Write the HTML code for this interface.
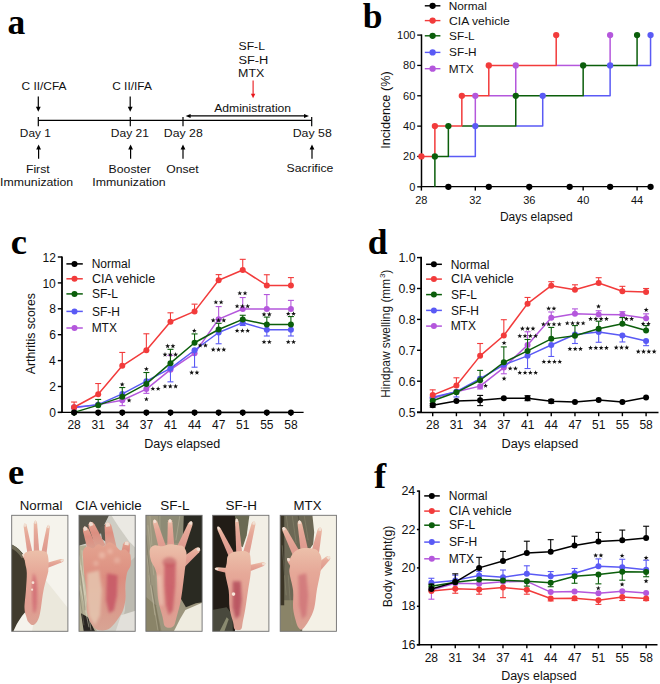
<!DOCTYPE html><html><head><meta charset="utf-8"><style>html,body{margin:0;padding:0;background:#fff;}svg{display:block;}text{font-family:"Liberation Sans",sans-serif;} text.sb{font-family:"Liberation Serif",serif;font-weight:bold;}</style></head><body>
<svg width="660" height="684" viewBox="0 0 660 684">
<rect width="660" height="684" fill="#fff"/>
<text x="7.54" y="33.8" class="sb" font-size="35.5" fill="#000">a</text>
<text x="362.64" y="28.4" class="sb" font-size="35.5" fill="#000">b</text>
<text x="10.71" y="253.8" class="sb" font-size="36.5" fill="#000">c</text>
<text x="367.68" y="253.9" class="sb" font-size="35.5" fill="#000">d</text>
<text x="8" y="484" class="sb" font-size="36.5" fill="#000">e</text>
<text x="374.03" y="487.6" class="sb" font-size="36.5" fill="#000">f</text>
<text transform="translate(21.5,89.9) scale(1.083,1)" font-size="11" fill="#111111" >C II/CFA</text>
<text transform="translate(112.21,89.9) scale(1.081,1)" font-size="11" fill="#111111" >C II/IFA</text>
<line x1="38.3" y1="96.4" x2="38.3" y2="107.3" stroke="#000000" stroke-width="1.2" />
<polygon points="35.9,106.8 40.7,106.8 38.3,111.8" fill="#000000"/>
<line x1="130.2" y1="96.4" x2="130.2" y2="107.3" stroke="#000000" stroke-width="1.2" />
<polygon points="127.8,106.8 132.6,106.8 130.2,111.8" fill="#000000"/>
<line x1="38.3" y1="120.3" x2="311.7" y2="120.3" stroke="#000000" stroke-width="1.3" />
<line x1="38.3" y1="117" x2="38.3" y2="126.2" stroke="#000000" stroke-width="1.2" />
<line x1="130.3" y1="117" x2="130.3" y2="126.2" stroke="#000000" stroke-width="1.2" />
<line x1="183" y1="117" x2="183" y2="126.2" stroke="#000000" stroke-width="1.2" />
<line x1="311.7" y1="117" x2="311.7" y2="126.2" stroke="#000000" stroke-width="1.2" />
<text transform="translate(19.85,136.7) scale(1.077,1)" font-size="11" fill="#111111" >Day 1</text>
<text transform="translate(110.84,136.7) scale(1.094,1)" font-size="11" fill="#111111" >Day 21</text>
<text transform="translate(163.82,136.7) scale(1.118,1)" font-size="11" fill="#111111" >Day 28</text>
<text transform="translate(292.71,136.6) scale(1.121,1)" font-size="11" fill="#111111" >Day 58</text>
<line x1="38.6" y1="148.9" x2="38.6" y2="158.8" stroke="#000000" stroke-width="1.2" />
<polygon points="36.2,149.4 41,149.4 38.6,144.4" fill="#000000"/>
<line x1="130.6" y1="148.9" x2="130.6" y2="158.8" stroke="#000000" stroke-width="1.2" />
<polygon points="128.2,149.4 133,149.4 130.6,144.4" fill="#000000"/>
<line x1="183" y1="148.9" x2="183" y2="158.8" stroke="#000000" stroke-width="1.2" />
<polygon points="180.6,149.4 185.4,149.4 183,144.4" fill="#000000"/>
<line x1="312" y1="148.9" x2="312" y2="158.8" stroke="#000000" stroke-width="1.2" />
<polygon points="309.6,149.4 314.4,149.4 312,144.4" fill="#000000"/>
<text transform="translate(25.92,172.5) scale(1.114,1)" font-size="11" fill="#111111" >First</text>
<text transform="translate(0.09,186.1) scale(1.119,1)" font-size="11" fill="#111111" >Immunization</text>
<text transform="translate(108.62,172.5) scale(1.113,1)" font-size="11" fill="#111111" >Booster</text>
<text transform="translate(92.29,186.1) scale(1.123,1)" font-size="11" fill="#111111" >Immunization</text>
<text transform="translate(166.19,172.8) scale(1.108,1)" font-size="11" fill="#111111" >Onset</text>
<text transform="translate(286.49,172.4) scale(1.113,1)" font-size="11" fill="#111111" >Sacrifice</text>
<text transform="translate(238.49,49.6) scale(1.110,1)" font-size="11" fill="#111111" >SF-L</text>
<text transform="translate(238.46,63.6) scale(1.165,1)" font-size="11" fill="#111111" >SF-H</text>
<text transform="translate(238.1,76.9) scale(1.132,1)" font-size="11" fill="#111111" >MTX</text>
<line x1="253.1" y1="80.5" x2="253.1" y2="94.2" stroke="#e8161b" stroke-width="1.1" />
<polygon points="250.9,93.7 255.3,93.7 253.1,98.2" fill="#e8161b"/>
<text transform="translate(214.2,111.8) scale(1.105,1)" font-size="11" fill="#111111" >Administration</text>
<line x1="189.5" y1="115.9" x2="305" y2="115.9" stroke="#000000" stroke-width="1.1" />
<polygon points="185.6,115.9 190.6,113.9 190.6,117.9" fill="#000"/>
<polygon points="309.0,115.9 304.0,113.9 304.0,117.9" fill="#000"/>
<line x1="421.5" y1="34.4" x2="421.5" y2="187.3" stroke="#000000" stroke-width="1.5" />
<line x1="420.8" y1="186.6" x2="651" y2="186.6" stroke="#000000" stroke-width="1.4" />
<line x1="417.2" y1="186.8" x2="421.5" y2="186.8" stroke="#000000" stroke-width="1.3" />
<text x="409.28" y="190.7" font-size="11" fill="#111111" >0</text>
<line x1="417.2" y1="156.46" x2="421.5" y2="156.46" stroke="#000000" stroke-width="1.3" />
<text x="403.12" y="160.36" font-size="11" fill="#111111" >20</text>
<line x1="417.2" y1="126.12" x2="421.5" y2="126.12" stroke="#000000" stroke-width="1.3" />
<text x="403.12" y="130.02" font-size="11" fill="#111111" >40</text>
<line x1="417.2" y1="95.78" x2="421.5" y2="95.78" stroke="#000000" stroke-width="1.3" />
<text x="403.12" y="99.68" font-size="11" fill="#111111" >60</text>
<line x1="417.2" y1="65.44" x2="421.5" y2="65.44" stroke="#000000" stroke-width="1.3" />
<text x="403.12" y="69.34" font-size="11" fill="#111111" >80</text>
<line x1="417.2" y1="35.1" x2="421.5" y2="35.1" stroke="#000000" stroke-width="1.3" />
<text x="397.07" y="39" font-size="11" fill="#111111" >100</text>
<line x1="421.4" y1="186.6" x2="421.4" y2="190.6" stroke="#000000" stroke-width="1.4" />
<text x="415.24" y="203.7" font-size="11" fill="#111111" >28</text>
<line x1="475.32" y1="186.6" x2="475.32" y2="190.6" stroke="#000000" stroke-width="1.4" />
<text x="469.21" y="203.7" font-size="11" fill="#111111" >32</text>
<line x1="529.24" y1="186.6" x2="529.24" y2="190.6" stroke="#000000" stroke-width="1.4" />
<text x="523.13" y="203.7" font-size="11" fill="#111111" >36</text>
<line x1="583.16" y1="186.6" x2="583.16" y2="190.6" stroke="#000000" stroke-width="1.4" />
<text x="577.11" y="203.7" font-size="11" fill="#111111" >40</text>
<line x1="637.08" y1="186.6" x2="637.08" y2="190.6" stroke="#000000" stroke-width="1.4" />
<text x="630.97" y="203.7" font-size="11" fill="#111111" >44</text>
<text x="499.94" y="220.8" font-size="12" fill="#111111" >Days elapsed</text>
<text transform="translate(389.6,109.9) rotate(-90) scale(1.056,1)" x="-36.84" y="0" font-size="12" fill="#111111">Incidence (%)</text>
<polyline points="475.32,126.12 475.32,95.78" fill="none" stroke="#b457dc" stroke-width="1.5" stroke-linejoin="round"/>
<polyline points="488.8,95.78 515.76,95.78 515.76,65.44" fill="none" stroke="#b457dc" stroke-width="1.5" stroke-linejoin="round"/>
<polyline points="556.2,65.44 583.16,65.44" fill="none" stroke="#b457dc" stroke-width="1.5" stroke-linejoin="round"/>
<polyline points="610.12,65.44 610.12,35.1" fill="none" stroke="#b457dc" stroke-width="1.5" stroke-linejoin="round"/>
<polyline points="448.36,156.46 475.32,156.46 475.32,126.12" fill="none" stroke="#5a5af5" stroke-width="1.5" stroke-linejoin="round"/>
<polyline points="515.76,126.12 542.72,126.12 542.72,95.78" fill="none" stroke="#5a5af5" stroke-width="1.5" stroke-linejoin="round"/>
<polyline points="583.16,95.78 610.12,95.78 610.12,65.44" fill="none" stroke="#5a5af5" stroke-width="1.5" stroke-linejoin="round"/>
<polyline points="637.08,65.44 650.56,65.44 650.56,35.1" fill="none" stroke="#5a5af5" stroke-width="1.5" stroke-linejoin="round"/>
<polyline points="434.88,186.8 434.88,156.46 448.36,156.46 448.36,126.12" fill="none" stroke="#0b5e0b" stroke-width="1.5" stroke-linejoin="round"/>
<polyline points="461.84,126.12 515.76,126.12 515.76,95.78 583.16,95.78 583.16,65.44 637.08,65.44 637.08,35.1" fill="none" stroke="#0b5e0b" stroke-width="1.5" stroke-linejoin="round"/>
<polyline points="421.4,156.46 434.88,156.46 434.88,126.12 461.84,126.12 461.84,95.78 488.8,95.78 488.8,65.44 556.2,65.44 556.2,35.1" fill="none" stroke="#f23b3b" stroke-width="1.5" stroke-linejoin="round"/>
<circle cx="475.32" cy="126.12" r="3.15" fill="#5a5af5"/>
<circle cx="542.72" cy="95.78" r="3.15" fill="#5a5af5"/>
<circle cx="610.12" cy="65.44" r="3.15" fill="#5a5af5"/>
<circle cx="650.56" cy="35.1" r="3.15" fill="#5a5af5"/>
<circle cx="475.32" cy="95.78" r="3.15" fill="#b457dc"/>
<circle cx="515.76" cy="65.44" r="3.15" fill="#b457dc"/>
<circle cx="610.12" cy="35.1" r="3.15" fill="#b457dc"/>
<circle cx="434.88" cy="156.46" r="3.15" fill="#0b5e0b"/>
<circle cx="448.36" cy="126.12" r="3.15" fill="#0b5e0b"/>
<circle cx="515.76" cy="95.78" r="3.15" fill="#0b5e0b"/>
<circle cx="583.16" cy="65.44" r="3.15" fill="#0b5e0b"/>
<circle cx="637.08" cy="35.1" r="3.15" fill="#0b5e0b"/>
<circle cx="421.4" cy="156.46" r="3.15" fill="#f23b3b"/>
<circle cx="434.88" cy="126.12" r="3.15" fill="#f23b3b"/>
<circle cx="461.84" cy="95.78" r="3.15" fill="#f23b3b"/>
<circle cx="488.8" cy="65.44" r="3.15" fill="#f23b3b"/>
<circle cx="556.2" cy="35.1" r="3.15" fill="#f23b3b"/>
<circle cx="448.36" cy="186.8" r="3.15" fill="#000000"/>
<circle cx="488.8" cy="186.8" r="3.15" fill="#000000"/>
<circle cx="529.24" cy="186.8" r="3.15" fill="#000000"/>
<circle cx="569.68" cy="186.8" r="3.15" fill="#000000"/>
<circle cx="610.12" cy="186.8" r="3.15" fill="#000000"/>
<circle cx="650.56" cy="186.8" r="3.15" fill="#000000"/>
<line x1="424.8" y1="5.8" x2="440.4" y2="5.8" stroke="#000000" stroke-width="1.4" />
<circle cx="432.6" cy="5.8" r="3.15" fill="#000000"/>
<text x="448.76" y="9.8" font-size="11.8" fill="#111111" >Normal</text>
<line x1="424.8" y1="20.6" x2="440.4" y2="20.6" stroke="#f23b3b" stroke-width="1.4" />
<circle cx="432.6" cy="20.6" r="3.15" fill="#f23b3b"/>
<text transform="translate(449.09,24.6) scale(1.029,1)" font-size="11.8" fill="#111111" >CIA vehicle</text>
<line x1="424.8" y1="35.8" x2="440.4" y2="35.8" stroke="#0b5e0b" stroke-width="1.4" />
<circle cx="432.6" cy="35.8" r="3.15" fill="#0b5e0b"/>
<text x="449.11" y="39.8" font-size="11.8" fill="#111111" >SF-L</text>
<line x1="424.8" y1="52.4" x2="440.4" y2="52.4" stroke="#5a5af5" stroke-width="1.4" />
<circle cx="432.6" cy="52.4" r="3.15" fill="#5a5af5"/>
<text x="449.11" y="56.4" font-size="11.8" fill="#111111" >SF-H</text>
<line x1="424.8" y1="68.7" x2="440.4" y2="68.7" stroke="#b457dc" stroke-width="1.4" />
<circle cx="432.6" cy="68.7" r="3.15" fill="#b457dc"/>
<text x="448.76" y="72.7" font-size="11.8" fill="#111111" >MTX</text>
<line x1="62" y1="256.6" x2="62" y2="413.1" stroke="#000000" stroke-width="1.8" />
<line x1="57.8" y1="412.4" x2="303.6" y2="412.4" stroke="#000000" stroke-width="1.4" />
<line x1="57.8" y1="412.4" x2="62" y2="412.4" stroke="#000000" stroke-width="1.4" />
<text x="49.16" y="417" font-size="12" fill="#111111" >0</text>
<line x1="57.8" y1="386.5" x2="62" y2="386.5" stroke="#000000" stroke-width="1.4" />
<text x="49.28" y="391.1" font-size="12" fill="#111111" >2</text>
<line x1="57.8" y1="360.6" x2="62" y2="360.6" stroke="#000000" stroke-width="1.4" />
<text x="49.04" y="365.2" font-size="12" fill="#111111" >4</text>
<line x1="57.8" y1="334.7" x2="62" y2="334.7" stroke="#000000" stroke-width="1.4" />
<text x="49.28" y="339.3" font-size="12" fill="#111111" >6</text>
<line x1="57.8" y1="308.8" x2="62" y2="308.8" stroke="#000000" stroke-width="1.4" />
<text x="49.28" y="313.4" font-size="12" fill="#111111" >8</text>
<line x1="57.8" y1="282.9" x2="62" y2="282.9" stroke="#000000" stroke-width="1.4" />
<text x="42.44" y="287.5" font-size="12" fill="#111111" >10</text>
<line x1="57.8" y1="257" x2="62" y2="257" stroke="#000000" stroke-width="1.4" />
<text x="42.56" y="261.6" font-size="12" fill="#111111" >12</text>
<line x1="74.1" y1="412.4" x2="74.1" y2="416" stroke="#000000" stroke-width="1.4" />
<text x="67.38" y="429.2" font-size="12" fill="#111111" >28</text>
<line x1="98.19" y1="412.4" x2="98.19" y2="416" stroke="#000000" stroke-width="1.4" />
<text x="91.53" y="429.2" font-size="12" fill="#111111" >31</text>
<line x1="122.28" y1="412.4" x2="122.28" y2="416" stroke="#000000" stroke-width="1.4" />
<text x="115.5" y="429.2" font-size="12" fill="#111111" >34</text>
<line x1="146.37" y1="412.4" x2="146.37" y2="416" stroke="#000000" stroke-width="1.4" />
<text x="139.71" y="429.2" font-size="12" fill="#111111" >37</text>
<line x1="170.46" y1="412.4" x2="170.46" y2="416" stroke="#000000" stroke-width="1.4" />
<text x="163.92" y="429.2" font-size="12" fill="#111111" >41</text>
<line x1="194.55" y1="412.4" x2="194.55" y2="416" stroke="#000000" stroke-width="1.4" />
<text x="187.89" y="429.2" font-size="12" fill="#111111" >44</text>
<line x1="218.64" y1="412.4" x2="218.64" y2="416" stroke="#000000" stroke-width="1.4" />
<text x="212.1" y="429.2" font-size="12" fill="#111111" >47</text>
<line x1="242.73" y1="412.4" x2="242.73" y2="416" stroke="#000000" stroke-width="1.4" />
<text x="236.07" y="429.2" font-size="12" fill="#111111" >51</text>
<line x1="266.82" y1="412.4" x2="266.82" y2="416" stroke="#000000" stroke-width="1.4" />
<text x="260.16" y="429.2" font-size="12" fill="#111111" >55</text>
<line x1="290.91" y1="412.4" x2="290.91" y2="416" stroke="#000000" stroke-width="1.4" />
<text x="284.25" y="429.2" font-size="12" fill="#111111" >58</text>
<text transform="translate(144.3,447.6) scale(1.046,1)" font-size="12" fill="#111111" >Days elapsed</text>
<text transform="translate(35.3,333.9) rotate(-90) scale(1.024,1)" x="-39.42" y="0" font-size="12" fill="#111111">Arthritis scores</text>
<line x1="122.28" y1="400.23" x2="122.28" y2="405.67" stroke="#b457dc" stroke-width="1.1" />
<line x1="119.28" y1="405.67" x2="125.28" y2="405.67" stroke="#b457dc" stroke-width="1.1" />
<line x1="146.37" y1="389.09" x2="146.37" y2="393.36" stroke="#b457dc" stroke-width="1.1" />
<line x1="143.37" y1="393.36" x2="149.37" y2="393.36" stroke="#b457dc" stroke-width="1.1" />
<line x1="170.46" y1="369.66" x2="170.46" y2="355.42" stroke="#b457dc" stroke-width="1.1" />
<line x1="167.46" y1="355.42" x2="173.46" y2="355.42" stroke="#b457dc" stroke-width="1.1" />
<line x1="218.64" y1="319.16" x2="218.64" y2="306.6" stroke="#b457dc" stroke-width="1.1" />
<line x1="215.64" y1="306.6" x2="221.64" y2="306.6" stroke="#b457dc" stroke-width="1.1" />
<line x1="242.73" y1="309.06" x2="242.73" y2="297.53" stroke="#b457dc" stroke-width="1.1" />
<line x1="239.73" y1="297.53" x2="245.73" y2="297.53" stroke="#b457dc" stroke-width="1.1" />
<line x1="266.82" y1="309.06" x2="266.82" y2="294.56" stroke="#b457dc" stroke-width="1.1" />
<line x1="263.82" y1="294.56" x2="269.82" y2="294.56" stroke="#b457dc" stroke-width="1.1" />
<line x1="290.91" y1="309.06" x2="290.91" y2="300.38" stroke="#b457dc" stroke-width="1.1" />
<line x1="287.91" y1="300.38" x2="293.91" y2="300.38" stroke="#b457dc" stroke-width="1.1" />
<polyline points="74.1,407.87 98.19,404.63 122.28,400.23 146.37,389.09 170.46,369.66 194.55,353.35 218.64,319.16 242.73,309.06 266.82,309.06 290.91,309.06" fill="none" stroke="#b457dc" stroke-width="1.5" stroke-linejoin="round"/>
<circle cx="74.1" cy="407.87" r="3.0" fill="#b457dc"/>
<circle cx="98.19" cy="404.63" r="3.0" fill="#b457dc"/>
<circle cx="122.28" cy="400.23" r="3.0" fill="#b457dc"/>
<circle cx="146.37" cy="389.09" r="3.0" fill="#b457dc"/>
<circle cx="170.46" cy="369.66" r="3.0" fill="#b457dc"/>
<circle cx="194.55" cy="353.35" r="3.0" fill="#b457dc"/>
<circle cx="218.64" cy="319.16" r="3.0" fill="#b457dc"/>
<circle cx="242.73" cy="309.06" r="3.0" fill="#b457dc"/>
<circle cx="266.82" cy="309.06" r="3.0" fill="#b457dc"/>
<circle cx="290.91" cy="309.06" r="3.0" fill="#b457dc"/>
<line x1="170.46" y1="368.37" x2="170.46" y2="381.84" stroke="#5a5af5" stroke-width="1.1" />
<line x1="167.46" y1="381.84" x2="173.46" y2="381.84" stroke="#5a5af5" stroke-width="1.1" />
<line x1="194.55" y1="350.24" x2="194.55" y2="367.2" stroke="#5a5af5" stroke-width="1.1" />
<line x1="191.55" y1="367.2" x2="197.55" y2="367.2" stroke="#5a5af5" stroke-width="1.1" />
<line x1="218.64" y1="332.5" x2="218.64" y2="343.76" stroke="#5a5af5" stroke-width="1.1" />
<line x1="215.64" y1="343.76" x2="221.64" y2="343.76" stroke="#5a5af5" stroke-width="1.1" />
<line x1="242.73" y1="322.66" x2="242.73" y2="325.51" stroke="#5a5af5" stroke-width="1.1" />
<line x1="239.73" y1="325.51" x2="245.73" y2="325.51" stroke="#5a5af5" stroke-width="1.1" />
<line x1="266.82" y1="329.65" x2="266.82" y2="336" stroke="#5a5af5" stroke-width="1.1" />
<line x1="263.82" y1="336" x2="269.82" y2="336" stroke="#5a5af5" stroke-width="1.1" />
<line x1="290.91" y1="329.65" x2="290.91" y2="336" stroke="#5a5af5" stroke-width="1.1" />
<line x1="287.91" y1="336" x2="293.91" y2="336" stroke="#5a5af5" stroke-width="1.1" />
<polyline points="74.1,407.22 98.19,404.63 122.28,393.88 146.37,381.19 170.46,368.37 194.55,350.24 218.64,332.5 242.73,322.66 266.82,329.65 290.91,329.65" fill="none" stroke="#5a5af5" stroke-width="1.5" stroke-linejoin="round"/>
<circle cx="74.1" cy="407.22" r="3.0" fill="#5a5af5"/>
<circle cx="98.19" cy="404.63" r="3.0" fill="#5a5af5"/>
<circle cx="122.28" cy="393.88" r="3.0" fill="#5a5af5"/>
<circle cx="146.37" cy="381.19" r="3.0" fill="#5a5af5"/>
<circle cx="170.46" cy="368.37" r="3.0" fill="#5a5af5"/>
<circle cx="194.55" cy="350.24" r="3.0" fill="#5a5af5"/>
<circle cx="218.64" cy="332.5" r="3.0" fill="#5a5af5"/>
<circle cx="242.73" cy="322.66" r="3.0" fill="#5a5af5"/>
<circle cx="266.82" cy="329.65" r="3.0" fill="#5a5af5"/>
<circle cx="290.91" cy="329.65" r="3.0" fill="#5a5af5"/>
<line x1="98.19" y1="405.15" x2="98.19" y2="399.45" stroke="#0b5e0b" stroke-width="1.1" />
<line x1="95.19" y1="399.45" x2="101.19" y2="399.45" stroke="#0b5e0b" stroke-width="1.1" />
<line x1="122.28" y1="396.86" x2="122.28" y2="387.54" stroke="#0b5e0b" stroke-width="1.1" />
<line x1="119.28" y1="387.54" x2="125.28" y2="387.54" stroke="#0b5e0b" stroke-width="1.1" />
<line x1="146.37" y1="383.91" x2="146.37" y2="372.51" stroke="#0b5e0b" stroke-width="1.1" />
<line x1="143.37" y1="372.51" x2="149.37" y2="372.51" stroke="#0b5e0b" stroke-width="1.1" />
<line x1="170.46" y1="363.19" x2="170.46" y2="349.33" stroke="#0b5e0b" stroke-width="1.1" />
<line x1="167.46" y1="349.33" x2="173.46" y2="349.33" stroke="#0b5e0b" stroke-width="1.1" />
<line x1="194.55" y1="342.73" x2="194.55" y2="333.92" stroke="#0b5e0b" stroke-width="1.1" />
<line x1="191.55" y1="333.92" x2="197.55" y2="333.92" stroke="#0b5e0b" stroke-width="1.1" />
<line x1="218.64" y1="329.52" x2="218.64" y2="323.3" stroke="#0b5e0b" stroke-width="1.1" />
<line x1="215.64" y1="323.3" x2="221.64" y2="323.3" stroke="#0b5e0b" stroke-width="1.1" />
<line x1="242.73" y1="319.42" x2="242.73" y2="315.27" stroke="#0b5e0b" stroke-width="1.1" />
<line x1="239.73" y1="315.27" x2="245.73" y2="315.27" stroke="#0b5e0b" stroke-width="1.1" />
<line x1="266.82" y1="324.6" x2="266.82" y2="317.09" stroke="#0b5e0b" stroke-width="1.1" />
<line x1="263.82" y1="317.09" x2="269.82" y2="317.09" stroke="#0b5e0b" stroke-width="1.1" />
<line x1="290.91" y1="324.6" x2="290.91" y2="316.57" stroke="#0b5e0b" stroke-width="1.1" />
<line x1="287.91" y1="316.57" x2="293.91" y2="316.57" stroke="#0b5e0b" stroke-width="1.1" />
<polyline points="74.1,412.4 98.19,405.15 122.28,396.86 146.37,383.91 170.46,363.19 194.55,342.73 218.64,329.52 242.73,319.42 266.82,324.6 290.91,324.6" fill="none" stroke="#0b5e0b" stroke-width="1.5" stroke-linejoin="round"/>
<circle cx="74.1" cy="412.4" r="3.0" fill="#0b5e0b"/>
<circle cx="98.19" cy="405.15" r="3.0" fill="#0b5e0b"/>
<circle cx="122.28" cy="396.86" r="3.0" fill="#0b5e0b"/>
<circle cx="146.37" cy="383.91" r="3.0" fill="#0b5e0b"/>
<circle cx="170.46" cy="363.19" r="3.0" fill="#0b5e0b"/>
<circle cx="194.55" cy="342.73" r="3.0" fill="#0b5e0b"/>
<circle cx="218.64" cy="329.52" r="3.0" fill="#0b5e0b"/>
<circle cx="242.73" cy="319.42" r="3.0" fill="#0b5e0b"/>
<circle cx="266.82" cy="324.6" r="3.0" fill="#0b5e0b"/>
<circle cx="290.91" cy="324.6" r="3.0" fill="#0b5e0b"/>
<line x1="74.1" y1="407.22" x2="74.1" y2="402.04" stroke="#f23b3b" stroke-width="1.1" />
<line x1="71.1" y1="402.04" x2="77.1" y2="402.04" stroke="#f23b3b" stroke-width="1.1" />
<line x1="98.19" y1="394.27" x2="98.19" y2="383.52" stroke="#f23b3b" stroke-width="1.1" />
<line x1="95.19" y1="383.52" x2="101.19" y2="383.52" stroke="#f23b3b" stroke-width="1.1" />
<line x1="122.28" y1="365.78" x2="122.28" y2="352.44" stroke="#f23b3b" stroke-width="1.1" />
<line x1="119.28" y1="352.44" x2="125.28" y2="352.44" stroke="#f23b3b" stroke-width="1.1" />
<line x1="146.37" y1="350.24" x2="146.37" y2="333.79" stroke="#f23b3b" stroke-width="1.1" />
<line x1="143.37" y1="333.79" x2="149.37" y2="333.79" stroke="#f23b3b" stroke-width="1.1" />
<line x1="170.46" y1="321.75" x2="170.46" y2="312.81" stroke="#f23b3b" stroke-width="1.1" />
<line x1="167.46" y1="312.81" x2="173.46" y2="312.81" stroke="#f23b3b" stroke-width="1.1" />
<line x1="194.55" y1="311.39" x2="194.55" y2="304.14" stroke="#f23b3b" stroke-width="1.1" />
<line x1="191.55" y1="304.14" x2="197.55" y2="304.14" stroke="#f23b3b" stroke-width="1.1" />
<line x1="218.64" y1="280.31" x2="218.64" y2="274.61" stroke="#f23b3b" stroke-width="1.1" />
<line x1="215.64" y1="274.61" x2="221.64" y2="274.61" stroke="#f23b3b" stroke-width="1.1" />
<line x1="242.73" y1="269.95" x2="242.73" y2="259.33" stroke="#f23b3b" stroke-width="1.1" />
<line x1="239.73" y1="259.33" x2="245.73" y2="259.33" stroke="#f23b3b" stroke-width="1.1" />
<line x1="266.82" y1="285.49" x2="266.82" y2="274.74" stroke="#f23b3b" stroke-width="1.1" />
<line x1="263.82" y1="274.74" x2="269.82" y2="274.74" stroke="#f23b3b" stroke-width="1.1" />
<line x1="290.91" y1="285.49" x2="290.91" y2="277.59" stroke="#f23b3b" stroke-width="1.1" />
<line x1="287.91" y1="277.59" x2="293.91" y2="277.59" stroke="#f23b3b" stroke-width="1.1" />
<polyline points="74.1,407.22 98.19,394.27 122.28,365.78 146.37,350.24 170.46,321.75 194.55,311.39 218.64,280.31 242.73,269.95 266.82,285.49 290.91,285.49" fill="none" stroke="#f23b3b" stroke-width="1.5" stroke-linejoin="round"/>
<circle cx="74.1" cy="407.22" r="3.0" fill="#f23b3b"/>
<circle cx="98.19" cy="394.27" r="3.0" fill="#f23b3b"/>
<circle cx="122.28" cy="365.78" r="3.0" fill="#f23b3b"/>
<circle cx="146.37" cy="350.24" r="3.0" fill="#f23b3b"/>
<circle cx="170.46" cy="321.75" r="3.0" fill="#f23b3b"/>
<circle cx="194.55" cy="311.39" r="3.0" fill="#f23b3b"/>
<circle cx="218.64" cy="280.31" r="3.0" fill="#f23b3b"/>
<circle cx="242.73" cy="269.95" r="3.0" fill="#f23b3b"/>
<circle cx="266.82" cy="285.49" r="3.0" fill="#f23b3b"/>
<circle cx="290.91" cy="285.49" r="3.0" fill="#f23b3b"/>
<polyline points="74.1,412.4 98.19,412.4 122.28,412.4 146.37,412.4 170.46,412.4 194.55,412.4 218.64,412.4 242.73,412.4 266.82,412.4 290.91,412.4" fill="none" stroke="#000000" stroke-width="1.5" stroke-linejoin="round"/>
<circle cx="74.1" cy="412.4" r="3.0" fill="#000000"/>
<circle cx="98.19" cy="412.4" r="3.0" fill="#000000"/>
<circle cx="122.28" cy="412.4" r="3.0" fill="#000000"/>
<circle cx="146.37" cy="412.4" r="3.0" fill="#000000"/>
<circle cx="170.46" cy="412.4" r="3.0" fill="#000000"/>
<circle cx="194.55" cy="412.4" r="3.0" fill="#000000"/>
<circle cx="218.64" cy="412.4" r="3.0" fill="#000000"/>
<circle cx="242.73" cy="412.4" r="3.0" fill="#000000"/>
<circle cx="266.82" cy="412.4" r="3.0" fill="#000000"/>
<circle cx="290.91" cy="412.4" r="3.0" fill="#000000"/>
<polygon points="122.2,381.9 122.83,383.58 124.63,383.66 123.22,384.78 123.7,386.51 122.2,385.52 120.7,386.51 121.18,384.78 119.77,383.66 121.57,383.58" fill="#111"/>
<polygon points="129.1,397.9 129.73,399.58 131.53,399.66 130.12,400.78 130.6,402.51 129.1,401.52 127.6,402.51 128.08,400.78 126.67,399.66 128.47,399.58" fill="#111"/>
<polygon points="146.4,366.5 147.03,368.18 148.83,368.26 147.42,369.38 147.9,371.11 146.4,370.12 144.9,371.11 145.38,369.38 143.97,368.26 145.77,368.18" fill="#111"/>
<polygon points="152.85,386.2 153.48,387.88 155.28,387.96 153.87,389.08 154.35,390.81 152.85,389.82 151.35,390.81 151.83,389.08 150.42,387.96 152.22,387.88" fill="#111"/>
<polygon points="158.15,386.2 158.78,387.88 160.58,387.96 159.17,389.08 159.65,390.81 158.15,389.82 156.65,390.81 157.13,389.08 155.72,387.96 157.52,387.88" fill="#111"/>
<polygon points="146.4,396.7 147.03,398.38 148.83,398.46 147.42,399.58 147.9,401.31 146.4,400.32 144.9,401.31 145.38,399.58 143.97,398.46 145.77,398.38" fill="#111"/>
<polygon points="167.65,343.6 168.28,345.28 170.08,345.36 168.67,346.48 169.15,348.21 167.65,347.22 166.15,348.21 166.63,346.48 165.22,345.36 167.02,345.28" fill="#111"/>
<polygon points="172.95,343.6 173.58,345.28 175.38,345.36 173.97,346.48 174.45,348.21 172.95,347.22 171.45,348.21 171.93,346.48 170.52,345.36 172.32,345.28" fill="#111"/>
<polygon points="165,352.1 165.63,353.78 167.43,353.86 166.02,354.98 166.5,356.71 165,355.72 163.5,356.71 163.98,354.98 162.57,353.86 164.37,353.78" fill="#111"/>
<polygon points="170.3,352.1 170.93,353.78 172.73,353.86 171.32,354.98 171.8,356.71 170.3,355.72 168.8,356.71 169.28,354.98 167.87,353.86 169.67,353.78" fill="#111"/>
<polygon points="175.6,352.1 176.23,353.78 178.03,353.86 176.62,354.98 177.1,356.71 175.6,355.72 174.1,356.71 174.58,354.98 173.17,353.86 174.97,353.78" fill="#111"/>
<polygon points="165,383.8 165.63,385.48 167.43,385.56 166.02,386.68 166.5,388.41 165,387.42 163.5,388.41 163.98,386.68 162.57,385.56 164.37,385.48" fill="#111"/>
<polygon points="170.3,383.8 170.93,385.48 172.73,385.56 171.32,386.68 171.8,388.41 170.3,387.42 168.8,388.41 169.28,386.68 167.87,385.56 169.67,385.48" fill="#111"/>
<polygon points="175.6,383.8 176.23,385.48 178.03,385.56 176.62,386.68 177.1,388.41 175.6,387.42 174.1,388.41 174.58,386.68 173.17,385.56 174.97,385.48" fill="#111"/>
<polygon points="194.3,328.2 194.93,329.88 196.73,329.96 195.32,331.08 195.8,332.81 194.3,331.82 192.8,332.81 193.28,331.08 191.87,329.96 193.67,329.88" fill="#111"/>
<polygon points="200.15,342.9 200.78,344.58 202.58,344.66 201.17,345.78 201.65,347.51 200.15,346.52 198.65,347.51 199.13,345.78 197.72,344.66 199.52,344.58" fill="#111"/>
<polygon points="205.45,342.9 206.08,344.58 207.88,344.66 206.47,345.78 206.95,347.51 205.45,346.52 203.95,347.51 204.43,345.78 203.02,344.66 204.82,344.58" fill="#111"/>
<polygon points="191.65,370.1 192.28,371.78 194.08,371.86 192.67,372.98 193.15,374.71 191.65,373.72 190.15,374.71 190.63,372.98 189.22,371.86 191.02,371.78" fill="#111"/>
<polygon points="196.95,370.1 197.58,371.78 199.38,371.86 197.97,372.98 198.45,374.71 196.95,373.72 195.45,374.71 195.93,372.98 194.52,371.86 196.32,371.78" fill="#111"/>
<polygon points="215.85,299.7 216.48,301.38 218.28,301.46 216.87,302.58 217.35,304.31 215.85,303.32 214.35,304.31 214.83,302.58 213.42,301.46 215.22,301.38" fill="#111"/>
<polygon points="221.15,299.7 221.78,301.38 223.58,301.46 222.17,302.58 222.65,304.31 221.15,303.32 219.65,304.31 220.13,302.58 218.72,301.46 220.52,301.38" fill="#111"/>
<polygon points="213.2,317.8 213.83,319.48 215.63,319.56 214.22,320.68 214.7,322.41 213.2,321.42 211.7,322.41 212.18,320.68 210.77,319.56 212.57,319.48" fill="#111"/>
<polygon points="218.5,317.8 219.13,319.48 220.93,319.56 219.52,320.68 220,322.41 218.5,321.42 217,322.41 217.48,320.68 216.07,319.56 217.87,319.48" fill="#111"/>
<polygon points="223.8,317.8 224.43,319.48 226.23,319.56 224.82,320.68 225.3,322.41 223.8,321.42 222.3,322.41 222.78,320.68 221.37,319.56 223.17,319.48" fill="#111"/>
<polygon points="213.2,347.1 213.83,348.78 215.63,348.86 214.22,349.98 214.7,351.71 213.2,350.72 211.7,351.71 212.18,349.98 210.77,348.86 212.57,348.78" fill="#111"/>
<polygon points="218.5,347.1 219.13,348.78 220.93,348.86 219.52,349.98 220,351.71 218.5,350.72 217,351.71 217.48,349.98 216.07,348.86 217.87,348.78" fill="#111"/>
<polygon points="223.8,347.1 224.43,348.78 226.23,348.86 224.82,349.98 225.3,351.71 223.8,350.72 222.3,351.71 222.78,349.98 221.37,348.86 223.17,348.78" fill="#111"/>
<polygon points="239.75,290.7 240.38,292.38 242.18,292.46 240.77,293.58 241.25,295.31 239.75,294.32 238.25,295.31 238.73,293.58 237.32,292.46 239.12,292.38" fill="#111"/>
<polygon points="245.05,290.7 245.68,292.38 247.48,292.46 246.07,293.58 246.55,295.31 245.05,294.32 243.55,295.31 244.03,293.58 242.62,292.46 244.42,292.38" fill="#111"/>
<polygon points="237.1,303.7 237.73,305.38 239.53,305.46 238.12,306.58 238.6,308.31 237.1,307.32 235.6,308.31 236.08,306.58 234.67,305.46 236.47,305.38" fill="#111"/>
<polygon points="242.4,303.7 243.03,305.38 244.83,305.46 243.42,306.58 243.9,308.31 242.4,307.32 240.9,308.31 241.38,306.58 239.97,305.46 241.77,305.38" fill="#111"/>
<polygon points="247.7,303.7 248.33,305.38 250.13,305.46 248.72,306.58 249.2,308.31 247.7,307.32 246.2,308.31 246.68,306.58 245.27,305.46 247.07,305.38" fill="#111"/>
<polygon points="237.1,328.2 237.73,329.88 239.53,329.96 238.12,331.08 238.6,332.81 237.1,331.82 235.6,332.81 236.08,331.08 234.67,329.96 236.47,329.88" fill="#111"/>
<polygon points="242.4,328.2 243.03,329.88 244.83,329.96 243.42,331.08 243.9,332.81 242.4,331.82 240.9,332.81 241.38,331.08 239.97,329.96 241.77,329.88" fill="#111"/>
<polygon points="247.7,328.2 248.33,329.88 250.13,329.96 248.72,331.08 249.2,332.81 247.7,331.82 246.2,332.81 246.68,331.08 245.27,329.96 247.07,329.88" fill="#111"/>
<polygon points="264.05,311.8 264.68,313.48 266.48,313.56 265.07,314.68 265.55,316.41 264.05,315.42 262.55,316.41 263.03,314.68 261.62,313.56 263.42,313.48" fill="#111"/>
<polygon points="269.35,311.8 269.98,313.48 271.78,313.56 270.37,314.68 270.85,316.41 269.35,315.42 267.85,316.41 268.33,314.68 266.92,313.56 268.72,313.48" fill="#111"/>
<polygon points="264.05,339.5 264.68,341.18 266.48,341.26 265.07,342.38 265.55,344.11 264.05,343.12 262.55,344.11 263.03,342.38 261.62,341.26 263.42,341.18" fill="#111"/>
<polygon points="269.35,339.5 269.98,341.18 271.78,341.26 270.37,342.38 270.85,344.11 269.35,343.12 267.85,344.11 268.33,342.38 266.92,341.26 268.72,341.18" fill="#111"/>
<polygon points="288.25,311.2 288.88,312.88 290.68,312.96 289.27,314.08 289.75,315.81 288.25,314.82 286.75,315.81 287.23,314.08 285.82,312.96 287.62,312.88" fill="#111"/>
<polygon points="293.55,311.2 294.18,312.88 295.98,312.96 294.57,314.08 295.05,315.81 293.55,314.82 292.05,315.81 292.53,314.08 291.12,312.96 292.92,312.88" fill="#111"/>
<polygon points="288.25,339.5 288.88,341.18 290.68,341.26 289.27,342.38 289.75,344.11 288.25,343.12 286.75,344.11 287.23,342.38 285.82,341.26 287.62,341.18" fill="#111"/>
<polygon points="293.55,339.5 294.18,341.18 295.98,341.26 294.57,342.38 295.05,344.11 293.55,343.12 292.05,344.11 292.53,342.38 291.12,341.26 292.92,341.18" fill="#111"/>
<line x1="66.4" y1="263.9" x2="82.8" y2="263.9" stroke="#000000" stroke-width="1.5" />
<circle cx="74.5" cy="263.9" r="3.0" fill="#000000"/>
<text x="91.64" y="268.1" font-size="12" fill="#111111" >Normal</text>
<line x1="66.4" y1="278.8" x2="82.8" y2="278.8" stroke="#f23b3b" stroke-width="1.5" />
<circle cx="74.5" cy="278.8" r="3.0" fill="#f23b3b"/>
<text transform="translate(91.97,283) scale(1.054,1)" font-size="12" fill="#111111" >CIA vehicle</text>
<line x1="66.4" y1="293.9" x2="82.8" y2="293.9" stroke="#0b5e0b" stroke-width="1.5" />
<circle cx="74.5" cy="293.9" r="3.0" fill="#0b5e0b"/>
<text x="92" y="298.1" font-size="12" fill="#111111" >SF-L</text>
<line x1="66.4" y1="311.4" x2="82.8" y2="311.4" stroke="#5a5af5" stroke-width="1.5" />
<circle cx="74.5" cy="311.4" r="3.0" fill="#5a5af5"/>
<text x="92" y="315.6" font-size="12" fill="#111111" >SF-H</text>
<line x1="66.4" y1="328" x2="82.8" y2="328" stroke="#b457dc" stroke-width="1.5" />
<circle cx="74.5" cy="328" r="3.0" fill="#b457dc"/>
<text x="91.64" y="332.2" font-size="12" fill="#111111" >MTX</text>
<line x1="421.1" y1="256.8" x2="421.1" y2="413" stroke="#000000" stroke-width="1.8" />
<line x1="417" y1="412.45" x2="658.5" y2="412.45" stroke="#000000" stroke-width="1.4" />
<line x1="417" y1="412.1" x2="421.1" y2="412.1" stroke="#000000" stroke-width="1.4" />
<text x="398.52" y="416.6" font-size="12.3" fill="#111111" >0.5</text>
<line x1="417" y1="381.2" x2="421.1" y2="381.2" stroke="#000000" stroke-width="1.4" />
<text x="398.52" y="385.7" font-size="12.3" fill="#111111" >0.6</text>
<line x1="417" y1="350.3" x2="421.1" y2="350.3" stroke="#000000" stroke-width="1.4" />
<text x="398.52" y="354.8" font-size="12.3" fill="#111111" >0.7</text>
<line x1="417" y1="319.4" x2="421.1" y2="319.4" stroke="#000000" stroke-width="1.4" />
<text x="398.52" y="323.9" font-size="12.3" fill="#111111" >0.8</text>
<line x1="417" y1="288.5" x2="421.1" y2="288.5" stroke="#000000" stroke-width="1.4" />
<text x="398.52" y="293" font-size="12.3" fill="#111111" >0.9</text>
<line x1="417" y1="257.6" x2="421.1" y2="257.6" stroke="#000000" stroke-width="1.4" />
<text x="398.39" y="262.1" font-size="12.3" fill="#111111" >1.0</text>
<line x1="432.7" y1="412.45" x2="432.7" y2="416.2" stroke="#000000" stroke-width="1.4" />
<text x="425.98" y="429.4" font-size="12" fill="#111111" >28</text>
<line x1="456.41" y1="412.45" x2="456.41" y2="416.2" stroke="#000000" stroke-width="1.4" />
<text x="449.75" y="429.4" font-size="12" fill="#111111" >31</text>
<line x1="480.12" y1="412.45" x2="480.12" y2="416.2" stroke="#000000" stroke-width="1.4" />
<text x="473.34" y="429.4" font-size="12" fill="#111111" >34</text>
<line x1="503.83" y1="412.45" x2="503.83" y2="416.2" stroke="#000000" stroke-width="1.4" />
<text x="497.17" y="429.4" font-size="12" fill="#111111" >37</text>
<line x1="527.54" y1="412.45" x2="527.54" y2="416.2" stroke="#000000" stroke-width="1.4" />
<text x="521" y="429.4" font-size="12" fill="#111111" >41</text>
<line x1="551.25" y1="412.45" x2="551.25" y2="416.2" stroke="#000000" stroke-width="1.4" />
<text x="544.59" y="429.4" font-size="12" fill="#111111" >44</text>
<line x1="574.96" y1="412.45" x2="574.96" y2="416.2" stroke="#000000" stroke-width="1.4" />
<text x="568.42" y="429.4" font-size="12" fill="#111111" >47</text>
<line x1="598.67" y1="412.45" x2="598.67" y2="416.2" stroke="#000000" stroke-width="1.4" />
<text x="592.01" y="429.4" font-size="12" fill="#111111" >51</text>
<line x1="622.38" y1="412.45" x2="622.38" y2="416.2" stroke="#000000" stroke-width="1.4" />
<text x="615.72" y="429.4" font-size="12" fill="#111111" >55</text>
<line x1="646.09" y1="412.45" x2="646.09" y2="416.2" stroke="#000000" stroke-width="1.4" />
<text x="639.43" y="429.4" font-size="12" fill="#111111" >58</text>
<text transform="translate(501.48,447.6) scale(1.058,1)" font-size="12" fill="#111111" >Days elapsed</text>
<line x1="480.12" y1="386.14" x2="480.12" y2="388.93" stroke="#b457dc" stroke-width="1.1" />
<line x1="477.12" y1="388.93" x2="483.12" y2="388.93" stroke="#b457dc" stroke-width="1.1" />
<line x1="503.83" y1="367.6" x2="503.83" y2="373.78" stroke="#b457dc" stroke-width="1.1" />
<line x1="500.83" y1="373.78" x2="506.83" y2="373.78" stroke="#b457dc" stroke-width="1.1" />
<line x1="527.54" y1="345.05" x2="527.54" y2="331.76" stroke="#b457dc" stroke-width="1.1" />
<line x1="524.54" y1="331.76" x2="530.54" y2="331.76" stroke="#b457dc" stroke-width="1.1" />
<line x1="551.25" y1="317.86" x2="551.25" y2="311.98" stroke="#b457dc" stroke-width="1.1" />
<line x1="548.25" y1="311.98" x2="554.25" y2="311.98" stroke="#b457dc" stroke-width="1.1" />
<line x1="574.96" y1="313.84" x2="574.96" y2="308.89" stroke="#b457dc" stroke-width="1.1" />
<line x1="571.96" y1="308.89" x2="577.96" y2="308.89" stroke="#b457dc" stroke-width="1.1" />
<line x1="598.67" y1="314.46" x2="598.67" y2="310.75" stroke="#b457dc" stroke-width="1.1" />
<line x1="595.67" y1="310.75" x2="601.67" y2="310.75" stroke="#b457dc" stroke-width="1.1" />
<line x1="622.38" y1="314.77" x2="622.38" y2="311.68" stroke="#b457dc" stroke-width="1.1" />
<line x1="619.38" y1="311.68" x2="625.38" y2="311.68" stroke="#b457dc" stroke-width="1.1" />
<line x1="646.09" y1="318.16" x2="646.09" y2="313.84" stroke="#b457dc" stroke-width="1.1" />
<line x1="643.09" y1="313.84" x2="649.09" y2="313.84" stroke="#b457dc" stroke-width="1.1" />
<polyline points="432.7,398.19 456.41,391.71 480.12,386.14 503.83,367.6 527.54,345.05 551.25,317.86 574.96,313.84 598.67,314.46 622.38,314.77 646.09,318.16" fill="none" stroke="#b457dc" stroke-width="1.5" stroke-linejoin="round"/>
<circle cx="432.7" cy="398.19" r="3.0" fill="#b457dc"/>
<circle cx="456.41" cy="391.71" r="3.0" fill="#b457dc"/>
<circle cx="480.12" cy="386.14" r="3.0" fill="#b457dc"/>
<circle cx="503.83" cy="367.6" r="3.0" fill="#b457dc"/>
<circle cx="527.54" cy="345.05" r="3.0" fill="#b457dc"/>
<circle cx="551.25" cy="317.86" r="3.0" fill="#b457dc"/>
<circle cx="574.96" cy="313.84" r="3.0" fill="#b457dc"/>
<circle cx="598.67" cy="314.46" r="3.0" fill="#b457dc"/>
<circle cx="622.38" cy="314.77" r="3.0" fill="#b457dc"/>
<circle cx="646.09" cy="318.16" r="3.0" fill="#b457dc"/>
<line x1="456.41" y1="391.71" x2="456.41" y2="396.96" stroke="#5a5af5" stroke-width="1.1" />
<line x1="453.41" y1="396.96" x2="459.41" y2="396.96" stroke="#5a5af5" stroke-width="1.1" />
<line x1="527.54" y1="355.86" x2="527.54" y2="368.53" stroke="#5a5af5" stroke-width="1.1" />
<line x1="524.54" y1="368.53" x2="530.54" y2="368.53" stroke="#5a5af5" stroke-width="1.1" />
<line x1="551.25" y1="345.05" x2="551.25" y2="356.48" stroke="#5a5af5" stroke-width="1.1" />
<line x1="548.25" y1="356.48" x2="554.25" y2="356.48" stroke="#5a5af5" stroke-width="1.1" />
<line x1="574.96" y1="334.54" x2="574.96" y2="343.5" stroke="#5a5af5" stroke-width="1.1" />
<line x1="571.96" y1="343.5" x2="577.96" y2="343.5" stroke="#5a5af5" stroke-width="1.1" />
<line x1="598.67" y1="332.07" x2="598.67" y2="342.27" stroke="#5a5af5" stroke-width="1.1" />
<line x1="595.67" y1="342.27" x2="601.67" y2="342.27" stroke="#5a5af5" stroke-width="1.1" />
<line x1="622.38" y1="335.47" x2="622.38" y2="341.96" stroke="#5a5af5" stroke-width="1.1" />
<line x1="619.38" y1="341.96" x2="625.38" y2="341.96" stroke="#5a5af5" stroke-width="1.1" />
<line x1="646.09" y1="341.03" x2="646.09" y2="345.67" stroke="#5a5af5" stroke-width="1.1" />
<line x1="643.09" y1="345.67" x2="649.09" y2="345.67" stroke="#5a5af5" stroke-width="1.1" />
<polyline points="432.7,397.27 456.41,391.71 480.12,378.73 503.83,364.82 527.54,355.86 551.25,345.05 574.96,334.54 598.67,332.07 622.38,335.47 646.09,341.03" fill="none" stroke="#5a5af5" stroke-width="1.5" stroke-linejoin="round"/>
<circle cx="432.7" cy="397.27" r="3.0" fill="#5a5af5"/>
<circle cx="456.41" cy="391.71" r="3.0" fill="#5a5af5"/>
<circle cx="480.12" cy="378.73" r="3.0" fill="#5a5af5"/>
<circle cx="503.83" cy="364.82" r="3.0" fill="#5a5af5"/>
<circle cx="527.54" cy="355.86" r="3.0" fill="#5a5af5"/>
<circle cx="551.25" cy="345.05" r="3.0" fill="#5a5af5"/>
<circle cx="574.96" cy="334.54" r="3.0" fill="#5a5af5"/>
<circle cx="598.67" cy="332.07" r="3.0" fill="#5a5af5"/>
<circle cx="622.38" cy="335.47" r="3.0" fill="#5a5af5"/>
<circle cx="646.09" cy="341.03" r="3.0" fill="#5a5af5"/>
<line x1="480.12" y1="380.27" x2="480.12" y2="370.38" stroke="#0b5e0b" stroke-width="1.1" />
<line x1="477.12" y1="370.38" x2="483.12" y2="370.38" stroke="#0b5e0b" stroke-width="1.1" />
<line x1="503.83" y1="362.35" x2="503.83" y2="346.9" stroke="#0b5e0b" stroke-width="1.1" />
<line x1="500.83" y1="346.9" x2="506.83" y2="346.9" stroke="#0b5e0b" stroke-width="1.1" />
<line x1="527.54" y1="350.92" x2="527.54" y2="339.49" stroke="#0b5e0b" stroke-width="1.1" />
<line x1="524.54" y1="339.49" x2="530.54" y2="339.49" stroke="#0b5e0b" stroke-width="1.1" />
<line x1="551.25" y1="338.87" x2="551.25" y2="327.43" stroke="#0b5e0b" stroke-width="1.1" />
<line x1="548.25" y1="327.43" x2="554.25" y2="327.43" stroke="#0b5e0b" stroke-width="1.1" />
<line x1="574.96" y1="335.78" x2="574.96" y2="325.58" stroke="#0b5e0b" stroke-width="1.1" />
<line x1="571.96" y1="325.58" x2="577.96" y2="325.58" stroke="#0b5e0b" stroke-width="1.1" />
<line x1="598.67" y1="328.67" x2="598.67" y2="321.25" stroke="#0b5e0b" stroke-width="1.1" />
<line x1="595.67" y1="321.25" x2="601.67" y2="321.25" stroke="#0b5e0b" stroke-width="1.1" />
<line x1="622.38" y1="323.73" x2="622.38" y2="317.55" stroke="#0b5e0b" stroke-width="1.1" />
<line x1="619.38" y1="317.55" x2="625.38" y2="317.55" stroke="#0b5e0b" stroke-width="1.1" />
<line x1="646.09" y1="330.52" x2="646.09" y2="325.58" stroke="#0b5e0b" stroke-width="1.1" />
<line x1="643.09" y1="325.58" x2="649.09" y2="325.58" stroke="#0b5e0b" stroke-width="1.1" />
<polyline points="432.7,400.67 456.41,392.32 480.12,380.27 503.83,362.35 527.54,350.92 551.25,338.87 574.96,335.78 598.67,328.67 622.38,323.73 646.09,330.52" fill="none" stroke="#0b5e0b" stroke-width="1.5" stroke-linejoin="round"/>
<circle cx="432.7" cy="400.67" r="3.0" fill="#0b5e0b"/>
<circle cx="456.41" cy="392.32" r="3.0" fill="#0b5e0b"/>
<circle cx="480.12" cy="380.27" r="3.0" fill="#0b5e0b"/>
<circle cx="503.83" cy="362.35" r="3.0" fill="#0b5e0b"/>
<circle cx="527.54" cy="350.92" r="3.0" fill="#0b5e0b"/>
<circle cx="551.25" cy="338.87" r="3.0" fill="#0b5e0b"/>
<circle cx="574.96" cy="335.78" r="3.0" fill="#0b5e0b"/>
<circle cx="598.67" cy="328.67" r="3.0" fill="#0b5e0b"/>
<circle cx="622.38" cy="323.73" r="3.0" fill="#0b5e0b"/>
<circle cx="646.09" cy="330.52" r="3.0" fill="#0b5e0b"/>
<line x1="432.7" y1="395.11" x2="432.7" y2="389.85" stroke="#f23b3b" stroke-width="1.1" />
<line x1="429.7" y1="389.85" x2="435.7" y2="389.85" stroke="#f23b3b" stroke-width="1.1" />
<line x1="456.41" y1="385.53" x2="456.41" y2="377.8" stroke="#f23b3b" stroke-width="1.1" />
<line x1="453.41" y1="377.8" x2="459.41" y2="377.8" stroke="#f23b3b" stroke-width="1.1" />
<line x1="480.12" y1="355.86" x2="480.12" y2="343.5" stroke="#f23b3b" stroke-width="1.1" />
<line x1="477.12" y1="343.5" x2="483.12" y2="343.5" stroke="#f23b3b" stroke-width="1.1" />
<line x1="503.83" y1="335.47" x2="503.83" y2="319.71" stroke="#f23b3b" stroke-width="1.1" />
<line x1="500.83" y1="319.71" x2="506.83" y2="319.71" stroke="#f23b3b" stroke-width="1.1" />
<line x1="527.54" y1="303.64" x2="527.54" y2="297.46" stroke="#f23b3b" stroke-width="1.1" />
<line x1="524.54" y1="297.46" x2="530.54" y2="297.46" stroke="#f23b3b" stroke-width="1.1" />
<line x1="551.25" y1="285.72" x2="551.25" y2="281.7" stroke="#f23b3b" stroke-width="1.1" />
<line x1="548.25" y1="281.7" x2="554.25" y2="281.7" stroke="#f23b3b" stroke-width="1.1" />
<line x1="574.96" y1="289.74" x2="574.96" y2="284.79" stroke="#f23b3b" stroke-width="1.1" />
<line x1="571.96" y1="284.79" x2="577.96" y2="284.79" stroke="#f23b3b" stroke-width="1.1" />
<line x1="598.67" y1="282.94" x2="598.67" y2="277.69" stroke="#f23b3b" stroke-width="1.1" />
<line x1="595.67" y1="277.69" x2="601.67" y2="277.69" stroke="#f23b3b" stroke-width="1.1" />
<line x1="622.38" y1="291.28" x2="622.38" y2="286.34" stroke="#f23b3b" stroke-width="1.1" />
<line x1="619.38" y1="286.34" x2="625.38" y2="286.34" stroke="#f23b3b" stroke-width="1.1" />
<line x1="646.09" y1="291.9" x2="646.09" y2="288.5" stroke="#f23b3b" stroke-width="1.1" />
<line x1="643.09" y1="288.5" x2="649.09" y2="288.5" stroke="#f23b3b" stroke-width="1.1" />
<polyline points="432.7,395.11 456.41,385.53 480.12,355.86 503.83,335.47 527.54,303.64 551.25,285.72 574.96,289.74 598.67,282.94 622.38,291.28 646.09,291.9" fill="none" stroke="#f23b3b" stroke-width="1.5" stroke-linejoin="round"/>
<circle cx="432.7" cy="395.11" r="3.0" fill="#f23b3b"/>
<circle cx="456.41" cy="385.53" r="3.0" fill="#f23b3b"/>
<circle cx="480.12" cy="355.86" r="3.0" fill="#f23b3b"/>
<circle cx="503.83" cy="335.47" r="3.0" fill="#f23b3b"/>
<circle cx="527.54" cy="303.64" r="3.0" fill="#f23b3b"/>
<circle cx="551.25" cy="285.72" r="3.0" fill="#f23b3b"/>
<circle cx="574.96" cy="289.74" r="3.0" fill="#f23b3b"/>
<circle cx="598.67" cy="282.94" r="3.0" fill="#f23b3b"/>
<circle cx="622.38" cy="291.28" r="3.0" fill="#f23b3b"/>
<circle cx="646.09" cy="291.9" r="3.0" fill="#f23b3b"/>
<line x1="480.12" y1="400.36" x2="480.12" y2="405.61" stroke="#000000" stroke-width="1.1" />
<line x1="477.12" y1="405.61" x2="483.12" y2="405.61" stroke="#000000" stroke-width="1.1" />
<line x1="480.12" y1="400.36" x2="480.12" y2="395.41" stroke="#000000" stroke-width="1.1" />
<line x1="477.12" y1="395.41" x2="483.12" y2="395.41" stroke="#000000" stroke-width="1.1" />
<line x1="527.54" y1="398.19" x2="527.54" y2="400.67" stroke="#000000" stroke-width="1.1" />
<line x1="524.54" y1="400.67" x2="530.54" y2="400.67" stroke="#000000" stroke-width="1.1" />
<line x1="527.54" y1="398.19" x2="527.54" y2="395.72" stroke="#000000" stroke-width="1.1" />
<line x1="524.54" y1="395.72" x2="530.54" y2="395.72" stroke="#000000" stroke-width="1.1" />
<line x1="551.25" y1="401.29" x2="551.25" y2="403.14" stroke="#000000" stroke-width="1.1" />
<line x1="548.25" y1="403.14" x2="554.25" y2="403.14" stroke="#000000" stroke-width="1.1" />
<line x1="551.25" y1="401.29" x2="551.25" y2="399.43" stroke="#000000" stroke-width="1.1" />
<line x1="548.25" y1="399.43" x2="554.25" y2="399.43" stroke="#000000" stroke-width="1.1" />
<line x1="432.7" y1="405.3" x2="432.7" y2="407.16" stroke="#000000" stroke-width="1.1" />
<line x1="429.7" y1="407.16" x2="435.7" y2="407.16" stroke="#000000" stroke-width="1.1" />
<line x1="432.7" y1="405.3" x2="432.7" y2="403.45" stroke="#000000" stroke-width="1.1" />
<line x1="429.7" y1="403.45" x2="435.7" y2="403.45" stroke="#000000" stroke-width="1.1" />
<polyline points="432.7,405.3 456.41,400.98 480.12,400.36 503.83,398.19 527.54,398.19 551.25,401.29 574.96,401.9 598.67,400.05 622.38,401.9 646.09,397.58" fill="none" stroke="#000000" stroke-width="1.5" stroke-linejoin="round"/>
<circle cx="432.7" cy="405.3" r="3.0" fill="#000000"/>
<circle cx="456.41" cy="400.98" r="3.0" fill="#000000"/>
<circle cx="480.12" cy="400.36" r="3.0" fill="#000000"/>
<circle cx="503.83" cy="398.19" r="3.0" fill="#000000"/>
<circle cx="527.54" cy="398.19" r="3.0" fill="#000000"/>
<circle cx="551.25" cy="401.29" r="3.0" fill="#000000"/>
<circle cx="574.96" cy="401.9" r="3.0" fill="#000000"/>
<circle cx="598.67" cy="400.05" r="3.0" fill="#000000"/>
<circle cx="622.38" cy="401.9" r="3.0" fill="#000000"/>
<circle cx="646.09" cy="397.58" r="3.0" fill="#000000"/>
<polygon points="485.6,383.2 486.23,384.88 488.03,384.96 486.62,386.08 487.1,387.81 485.6,386.82 484.1,387.81 484.58,386.08 483.17,384.96 484.97,384.88" fill="#111"/>
<polygon points="504.1,340.5 504.73,342.18 506.53,342.26 505.12,343.38 505.6,345.11 504.1,344.12 502.6,345.11 503.08,343.38 501.67,342.26 503.47,342.18" fill="#111"/>
<polygon points="510.15,366 510.78,367.68 512.58,367.76 511.17,368.88 511.65,370.61 510.15,369.62 508.65,370.61 509.13,368.88 507.72,367.76 509.52,367.68" fill="#111"/>
<polygon points="515.45,366 516.08,367.68 517.88,367.76 516.47,368.88 516.95,370.61 515.45,369.62 513.95,370.61 514.43,368.88 513.02,367.76 514.82,367.68" fill="#111"/>
<polygon points="504.1,376.1 504.73,377.78 506.53,377.86 505.12,378.98 505.6,380.71 504.1,379.72 502.6,380.71 503.08,378.98 501.67,377.86 503.47,377.78" fill="#111"/>
<polygon points="522.4,326.1 523.03,327.78 524.83,327.86 523.42,328.98 523.9,330.71 522.4,329.72 520.9,330.71 521.38,328.98 519.97,327.86 521.77,327.78" fill="#111"/>
<polygon points="527.7,326.1 528.33,327.78 530.13,327.86 528.72,328.98 529.2,330.71 527.7,329.72 526.2,330.71 526.68,328.98 525.27,327.86 527.07,327.78" fill="#111"/>
<polygon points="533,326.1 533.63,327.78 535.43,327.86 534.02,328.98 534.5,330.71 533,329.72 531.5,330.71 531.98,328.98 530.57,327.86 532.37,327.78" fill="#111"/>
<polygon points="519.75,333.5 520.38,335.18 522.18,335.26 520.77,336.38 521.25,338.11 519.75,337.12 518.25,338.11 518.73,336.38 517.32,335.26 519.12,335.18" fill="#111"/>
<polygon points="525.05,333.5 525.68,335.18 527.48,335.26 526.07,336.38 526.55,338.11 525.05,337.12 523.55,338.11 524.03,336.38 522.62,335.26 524.42,335.18" fill="#111"/>
<polygon points="530.35,333.5 530.98,335.18 532.78,335.26 531.37,336.38 531.85,338.11 530.35,337.12 528.85,338.11 529.33,336.38 527.92,335.26 529.72,335.18" fill="#111"/>
<polygon points="535.65,333.5 536.28,335.18 538.08,335.26 536.67,336.38 537.15,338.11 535.65,337.12 534.15,338.11 534.63,336.38 533.22,335.26 535.02,335.18" fill="#111"/>
<polygon points="519.75,370.2 520.38,371.88 522.18,371.96 520.77,373.08 521.25,374.81 519.75,373.82 518.25,374.81 518.73,373.08 517.32,371.96 519.12,371.88" fill="#111"/>
<polygon points="525.05,370.2 525.68,371.88 527.48,371.96 526.07,373.08 526.55,374.81 525.05,373.82 523.55,374.81 524.03,373.08 522.62,371.96 524.42,371.88" fill="#111"/>
<polygon points="530.35,370.2 530.98,371.88 532.78,371.96 531.37,373.08 531.85,374.81 530.35,373.82 528.85,374.81 529.33,373.08 527.92,371.96 529.72,371.88" fill="#111"/>
<polygon points="535.65,370.2 536.28,371.88 538.08,371.96 536.67,373.08 537.15,374.81 535.65,373.82 534.15,374.81 534.63,373.08 533.22,371.96 535.02,371.88" fill="#111"/>
<polygon points="548.65,306 549.28,307.68 551.08,307.76 549.67,308.88 550.15,310.61 548.65,309.62 547.15,310.61 547.63,308.88 546.22,307.76 548.02,307.68" fill="#111"/>
<polygon points="553.95,306 554.58,307.68 556.38,307.76 554.97,308.88 555.45,310.61 553.95,309.62 552.45,310.61 552.93,308.88 551.52,307.76 553.32,307.68" fill="#111"/>
<polygon points="543.35,321.7 543.98,323.38 545.78,323.46 544.37,324.58 544.85,326.31 543.35,325.32 541.85,326.31 542.33,324.58 540.92,323.46 542.72,323.38" fill="#111"/>
<polygon points="548.65,321.7 549.28,323.38 551.08,323.46 549.67,324.58 550.15,326.31 548.65,325.32 547.15,326.31 547.63,324.58 546.22,323.46 548.02,323.38" fill="#111"/>
<polygon points="553.95,321.7 554.58,323.38 556.38,323.46 554.97,324.58 555.45,326.31 553.95,325.32 552.45,326.31 552.93,324.58 551.52,323.46 553.32,323.38" fill="#111"/>
<polygon points="559.25,321.7 559.88,323.38 561.68,323.46 560.27,324.58 560.75,326.31 559.25,325.32 557.75,326.31 558.23,324.58 556.82,323.46 558.62,323.38" fill="#111"/>
<polygon points="543.85,359.2 544.48,360.88 546.28,360.96 544.87,362.08 545.35,363.81 543.85,362.82 542.35,363.81 542.83,362.08 541.42,360.96 543.22,360.88" fill="#111"/>
<polygon points="549.15,359.2 549.78,360.88 551.58,360.96 550.17,362.08 550.65,363.81 549.15,362.82 547.65,363.81 548.13,362.08 546.72,360.96 548.52,360.88" fill="#111"/>
<polygon points="554.45,359.2 555.08,360.88 556.88,360.96 555.47,362.08 555.95,363.81 554.45,362.82 552.95,363.81 553.43,362.08 552.02,360.96 553.82,360.88" fill="#111"/>
<polygon points="559.75,359.2 560.38,360.88 562.18,360.96 560.77,362.08 561.25,363.81 559.75,362.82 558.25,363.81 558.73,362.08 557.32,360.96 559.12,360.88" fill="#111"/>
<polygon points="567.25,320.7 567.88,322.38 569.68,322.46 568.27,323.58 568.75,325.31 567.25,324.32 565.75,325.31 566.23,323.58 564.82,322.46 566.62,322.38" fill="#111"/>
<polygon points="572.55,320.7 573.18,322.38 574.98,322.46 573.57,323.58 574.05,325.31 572.55,324.32 571.05,325.31 571.53,323.58 570.12,322.46 571.92,322.38" fill="#111"/>
<polygon points="577.85,320.7 578.48,322.38 580.28,322.46 578.87,323.58 579.35,325.31 577.85,324.32 576.35,325.31 576.83,323.58 575.42,322.46 577.22,322.38" fill="#111"/>
<polygon points="583.15,320.7 583.78,322.38 585.58,322.46 584.17,323.58 584.65,325.31 583.15,324.32 581.65,325.31 582.13,323.58 580.72,322.46 582.52,322.38" fill="#111"/>
<polygon points="569.9,346.4 570.53,348.08 572.33,348.16 570.92,349.28 571.4,351.01 569.9,350.02 568.4,351.01 568.88,349.28 567.47,348.16 569.27,348.08" fill="#111"/>
<polygon points="575.2,346.4 575.83,348.08 577.63,348.16 576.22,349.28 576.7,351.01 575.2,350.02 573.7,351.01 574.18,349.28 572.77,348.16 574.57,348.08" fill="#111"/>
<polygon points="580.5,346.4 581.13,348.08 582.93,348.16 581.52,349.28 582,351.01 580.5,350.02 579,351.01 579.48,349.28 578.07,348.16 579.87,348.08" fill="#111"/>
<polygon points="598.5,303.9 599.13,305.58 600.93,305.66 599.52,306.78 600,308.51 598.5,307.52 597,308.51 597.48,306.78 596.07,305.66 597.87,305.58" fill="#111"/>
<polygon points="590.55,316.4 591.18,318.08 592.98,318.16 591.57,319.28 592.05,321.01 590.55,320.02 589.05,321.01 589.53,319.28 588.12,318.16 589.92,318.08" fill="#111"/>
<polygon points="595.85,316.4 596.48,318.08 598.28,318.16 596.87,319.28 597.35,321.01 595.85,320.02 594.35,321.01 594.83,319.28 593.42,318.16 595.22,318.08" fill="#111"/>
<polygon points="601.15,316.4 601.78,318.08 603.58,318.16 602.17,319.28 602.65,321.01 601.15,320.02 599.65,321.01 600.13,319.28 598.72,318.16 600.52,318.08" fill="#111"/>
<polygon points="606.45,316.4 607.08,318.08 608.88,318.16 607.47,319.28 607.95,321.01 606.45,320.02 604.95,321.01 605.43,319.28 604.02,318.16 605.82,318.08" fill="#111"/>
<polygon points="590.55,345.4 591.18,347.08 592.98,347.16 591.57,348.28 592.05,350.01 590.55,349.02 589.05,350.01 589.53,348.28 588.12,347.16 589.92,347.08" fill="#111"/>
<polygon points="595.85,345.4 596.48,347.08 598.28,347.16 596.87,348.28 597.35,350.01 595.85,349.02 594.35,350.01 594.83,348.28 593.42,347.16 595.22,347.08" fill="#111"/>
<polygon points="601.15,345.4 601.78,347.08 603.58,347.16 602.17,348.28 602.65,350.01 601.15,349.02 599.65,350.01 600.13,348.28 598.72,347.16 600.52,347.08" fill="#111"/>
<polygon points="606.45,345.4 607.08,347.08 608.88,347.16 607.47,348.28 607.95,350.01 606.45,349.02 604.95,350.01 605.43,348.28 604.02,347.16 605.82,347.08" fill="#111"/>
<polygon points="626.35,316.4 626.98,318.08 628.78,318.16 627.37,319.28 627.85,321.01 626.35,320.02 624.85,321.01 625.33,319.28 623.92,318.16 625.72,318.08" fill="#111"/>
<polygon points="631.65,316.4 632.28,318.08 634.08,318.16 632.67,319.28 633.15,321.01 631.65,320.02 630.15,321.01 630.63,319.28 629.22,318.16 631.02,318.08" fill="#111"/>
<polygon points="616.2,345.1 616.83,346.78 618.63,346.86 617.22,347.98 617.7,349.71 616.2,348.72 614.7,349.71 615.18,347.98 613.77,346.86 615.57,346.78" fill="#111"/>
<polygon points="621.5,345.1 622.13,346.78 623.93,346.86 622.52,347.98 623,349.71 621.5,348.72 620,349.71 620.48,347.98 619.07,346.86 620.87,346.78" fill="#111"/>
<polygon points="626.8,345.1 627.43,346.78 629.23,346.86 627.82,347.98 628.3,349.71 626.8,348.72 625.3,349.71 625.78,347.98 624.37,346.86 626.17,346.78" fill="#111"/>
<polygon points="646.2,307.3 646.83,308.98 648.63,309.06 647.22,310.18 647.7,311.91 646.2,310.92 644.7,311.91 645.18,310.18 643.77,309.06 645.57,308.98" fill="#111"/>
<polygon points="643.15,321.2 643.78,322.88 645.58,322.96 644.17,324.08 644.65,325.81 643.15,324.82 641.65,325.81 642.13,324.08 640.72,322.96 642.52,322.88" fill="#111"/>
<polygon points="648.45,321.2 649.08,322.88 650.88,322.96 649.47,324.08 649.95,325.81 648.45,324.82 646.95,325.81 647.43,324.08 646.02,322.96 647.82,322.88" fill="#111"/>
<polygon points="638.25,349.1 638.88,350.78 640.68,350.86 639.27,351.98 639.75,353.71 638.25,352.72 636.75,353.71 637.23,351.98 635.82,350.86 637.62,350.78" fill="#111"/>
<polygon points="643.55,349.1 644.18,350.78 645.98,350.86 644.57,351.98 645.05,353.71 643.55,352.72 642.05,353.71 642.53,351.98 641.12,350.86 642.92,350.78" fill="#111"/>
<polygon points="648.85,349.1 649.48,350.78 651.28,350.86 649.87,351.98 650.35,353.71 648.85,352.72 647.35,353.71 647.83,351.98 646.42,350.86 648.22,350.78" fill="#111"/>
<polygon points="654.15,349.1 654.78,350.78 656.58,350.86 655.17,351.98 655.65,353.71 654.15,352.72 652.65,353.71 653.13,351.98 651.72,350.86 653.52,350.78" fill="#111"/>
<line x1="426.1" y1="264.3" x2="441.9" y2="264.3" stroke="#000000" stroke-width="1.5" />
<circle cx="433.9" cy="264.3" r="3.0" fill="#000000"/>
<text x="450.64" y="268.5" font-size="12" fill="#111111" >Normal</text>
<line x1="426.1" y1="279.1" x2="441.9" y2="279.1" stroke="#f23b3b" stroke-width="1.5" />
<circle cx="433.9" cy="279.1" r="3.0" fill="#f23b3b"/>
<text transform="translate(450.97,283.3) scale(1.049,1)" font-size="12" fill="#111111" >CIA vehicle</text>
<line x1="426.1" y1="294.6" x2="441.9" y2="294.6" stroke="#0b5e0b" stroke-width="1.5" />
<circle cx="433.9" cy="294.6" r="3.0" fill="#0b5e0b"/>
<text x="451" y="298.8" font-size="12" fill="#111111" >SF-L</text>
<line x1="426.1" y1="310.4" x2="441.9" y2="310.4" stroke="#5a5af5" stroke-width="1.5" />
<circle cx="433.9" cy="310.4" r="3.0" fill="#5a5af5"/>
<text x="451" y="314.6" font-size="12" fill="#111111" >SF-H</text>
<line x1="426.1" y1="326.1" x2="441.9" y2="326.1" stroke="#b457dc" stroke-width="1.5" />
<circle cx="433.9" cy="326.1" r="3.0" fill="#b457dc"/>
<text x="450.64" y="330.3" font-size="12" fill="#111111" >MTX</text>
<g transform="translate(389.6,334.3) rotate(-90)"><text x="-63.5" y="0" font-size="12" fill="#1a1a1a" textLength="119" lengthAdjust="spacingAndGlyphs">Hindpaw swelling (mm</text><text x="56.2" y="-5" font-size="8" fill="#1a1a1a">3</text><text x="60.6" y="0" font-size="12" fill="#1a1a1a">)</text></g>
<line x1="419.3" y1="490.4" x2="419.3" y2="645.4" stroke="#000000" stroke-width="1.6" />
<line x1="416.8" y1="644.7" x2="657.5" y2="644.7" stroke="#000000" stroke-width="1.6" />
<line x1="416.9" y1="644.7" x2="419.3" y2="644.7" stroke="#000000" stroke-width="1.5" />
<text x="401.62" y="648.8" font-size="12.5" fill="#111111" >16</text>
<line x1="416.9" y1="606.3" x2="419.3" y2="606.3" stroke="#000000" stroke-width="1.5" />
<text x="401.62" y="610.4" font-size="12.5" fill="#111111" >18</text>
<line x1="416.9" y1="567.9" x2="419.3" y2="567.9" stroke="#000000" stroke-width="1.5" />
<text x="401.5" y="572" font-size="12.5" fill="#111111" >20</text>
<line x1="416.9" y1="529.5" x2="419.3" y2="529.5" stroke="#000000" stroke-width="1.5" />
<text x="401.62" y="533.6" font-size="12.5" fill="#111111" >22</text>
<line x1="416.9" y1="491.1" x2="419.3" y2="491.1" stroke="#000000" stroke-width="1.5" />
<text x="401.38" y="495.2" font-size="12.5" fill="#111111" >24</text>
<line x1="431.4" y1="644.7" x2="431.4" y2="648.3" stroke="#000000" stroke-width="1.4" />
<text x="424.68" y="661.6" font-size="12" fill="#111111" >28</text>
<line x1="455.26" y1="644.7" x2="455.26" y2="648.3" stroke="#000000" stroke-width="1.4" />
<text x="448.6" y="661.6" font-size="12" fill="#111111" >31</text>
<line x1="479.12" y1="644.7" x2="479.12" y2="648.3" stroke="#000000" stroke-width="1.4" />
<text x="472.34" y="661.6" font-size="12" fill="#111111" >34</text>
<line x1="502.98" y1="644.7" x2="502.98" y2="648.3" stroke="#000000" stroke-width="1.4" />
<text x="496.32" y="661.6" font-size="12" fill="#111111" >37</text>
<line x1="526.84" y1="644.7" x2="526.84" y2="648.3" stroke="#000000" stroke-width="1.4" />
<text x="520.3" y="661.6" font-size="12" fill="#111111" >41</text>
<line x1="550.7" y1="644.7" x2="550.7" y2="648.3" stroke="#000000" stroke-width="1.4" />
<text x="544.04" y="661.6" font-size="12" fill="#111111" >44</text>
<line x1="574.56" y1="644.7" x2="574.56" y2="648.3" stroke="#000000" stroke-width="1.4" />
<text x="568.02" y="661.6" font-size="12" fill="#111111" >47</text>
<line x1="598.42" y1="644.7" x2="598.42" y2="648.3" stroke="#000000" stroke-width="1.4" />
<text x="591.76" y="661.6" font-size="12" fill="#111111" >51</text>
<line x1="622.28" y1="644.7" x2="622.28" y2="648.3" stroke="#000000" stroke-width="1.4" />
<text x="615.62" y="661.6" font-size="12" fill="#111111" >55</text>
<line x1="646.14" y1="644.7" x2="646.14" y2="648.3" stroke="#000000" stroke-width="1.4" />
<text x="639.48" y="661.6" font-size="12" fill="#111111" >58</text>
<text transform="translate(501.2,679.6) scale(1.038,1)" font-size="12" fill="#111111" >Days elapsed</text>
<text transform="translate(392.3,566.3) rotate(-90) scale(1.022,1)" x="-40.14" y="0" font-size="12" fill="#111111">Body weight(g)</text>
<line x1="431.4" y1="589.98" x2="431.4" y2="599.2" stroke="#b457dc" stroke-width="1.1" />
<line x1="428.4" y1="599.2" x2="434.4" y2="599.2" stroke="#b457dc" stroke-width="1.1" />
<polyline points="431.4,589.98 455.26,583.26 479.12,583.64 502.98,581.72 526.84,581.34 550.7,592.09 574.56,591.52 598.42,593.24 622.28,591.13 646.14,593.05" fill="none" stroke="#b457dc" stroke-width="1.5" stroke-linejoin="round"/>
<circle cx="431.4" cy="589.98" r="3.0" fill="#b457dc"/>
<circle cx="455.26" cy="583.26" r="3.0" fill="#b457dc"/>
<circle cx="479.12" cy="583.64" r="3.0" fill="#b457dc"/>
<circle cx="502.98" cy="581.72" r="3.0" fill="#b457dc"/>
<circle cx="526.84" cy="581.34" r="3.0" fill="#b457dc"/>
<circle cx="550.7" cy="592.09" r="3.0" fill="#b457dc"/>
<circle cx="574.56" cy="591.52" r="3.0" fill="#b457dc"/>
<circle cx="598.42" cy="593.24" r="3.0" fill="#b457dc"/>
<circle cx="622.28" cy="591.13" r="3.0" fill="#b457dc"/>
<circle cx="646.14" cy="593.05" r="3.0" fill="#b457dc"/>
<line x1="431.4" y1="582.68" x2="431.4" y2="578.27" stroke="#5a5af5" stroke-width="1.1" />
<line x1="428.4" y1="578.27" x2="434.4" y2="578.27" stroke="#5a5af5" stroke-width="1.1" />
<line x1="455.26" y1="580.38" x2="455.26" y2="575.2" stroke="#5a5af5" stroke-width="1.1" />
<line x1="452.26" y1="575.2" x2="458.26" y2="575.2" stroke="#5a5af5" stroke-width="1.1" />
<line x1="479.12" y1="575.58" x2="479.12" y2="571.36" stroke="#5a5af5" stroke-width="1.1" />
<line x1="476.12" y1="571.36" x2="482.12" y2="571.36" stroke="#5a5af5" stroke-width="1.1" />
<line x1="502.98" y1="577.31" x2="502.98" y2="570.01" stroke="#5a5af5" stroke-width="1.1" />
<line x1="499.98" y1="570.01" x2="505.98" y2="570.01" stroke="#5a5af5" stroke-width="1.1" />
<line x1="526.84" y1="573.85" x2="526.84" y2="565.79" stroke="#5a5af5" stroke-width="1.1" />
<line x1="523.84" y1="565.79" x2="529.84" y2="565.79" stroke="#5a5af5" stroke-width="1.1" />
<line x1="550.7" y1="576.35" x2="550.7" y2="571.55" stroke="#5a5af5" stroke-width="1.1" />
<line x1="547.7" y1="571.55" x2="553.7" y2="571.55" stroke="#5a5af5" stroke-width="1.1" />
<line x1="574.56" y1="573.28" x2="574.56" y2="568.48" stroke="#5a5af5" stroke-width="1.1" />
<line x1="571.56" y1="568.48" x2="577.56" y2="568.48" stroke="#5a5af5" stroke-width="1.1" />
<line x1="598.42" y1="566.17" x2="598.42" y2="558.88" stroke="#5a5af5" stroke-width="1.1" />
<line x1="595.42" y1="558.88" x2="601.42" y2="558.88" stroke="#5a5af5" stroke-width="1.1" />
<line x1="622.28" y1="567.32" x2="622.28" y2="559.26" stroke="#5a5af5" stroke-width="1.1" />
<line x1="619.28" y1="559.26" x2="625.28" y2="559.26" stroke="#5a5af5" stroke-width="1.1" />
<line x1="646.14" y1="569.82" x2="646.14" y2="560.22" stroke="#5a5af5" stroke-width="1.1" />
<line x1="643.14" y1="560.22" x2="649.14" y2="560.22" stroke="#5a5af5" stroke-width="1.1" />
<polyline points="431.4,582.68 455.26,580.38 479.12,575.58 502.98,577.31 526.84,573.85 550.7,576.35 574.56,573.28 598.42,566.17 622.28,567.32 646.14,569.82" fill="none" stroke="#5a5af5" stroke-width="1.5" stroke-linejoin="round"/>
<circle cx="431.4" cy="582.68" r="3.0" fill="#5a5af5"/>
<circle cx="455.26" cy="580.38" r="3.0" fill="#5a5af5"/>
<circle cx="479.12" cy="575.58" r="3.0" fill="#5a5af5"/>
<circle cx="502.98" cy="577.31" r="3.0" fill="#5a5af5"/>
<circle cx="526.84" cy="573.85" r="3.0" fill="#5a5af5"/>
<circle cx="550.7" cy="576.35" r="3.0" fill="#5a5af5"/>
<circle cx="574.56" cy="573.28" r="3.0" fill="#5a5af5"/>
<circle cx="598.42" cy="566.17" r="3.0" fill="#5a5af5"/>
<circle cx="622.28" cy="567.32" r="3.0" fill="#5a5af5"/>
<circle cx="646.14" cy="569.82" r="3.0" fill="#5a5af5"/>
<line x1="431.4" y1="586.33" x2="431.4" y2="590.94" stroke="#0b5e0b" stroke-width="1.1" />
<line x1="428.4" y1="590.94" x2="434.4" y2="590.94" stroke="#0b5e0b" stroke-width="1.1" />
<line x1="526.84" y1="581.15" x2="526.84" y2="586.14" stroke="#0b5e0b" stroke-width="1.1" />
<line x1="523.84" y1="586.14" x2="529.84" y2="586.14" stroke="#0b5e0b" stroke-width="1.1" />
<line x1="550.7" y1="582.68" x2="550.7" y2="586.72" stroke="#0b5e0b" stroke-width="1.1" />
<line x1="547.7" y1="586.72" x2="553.7" y2="586.72" stroke="#0b5e0b" stroke-width="1.1" />
<line x1="574.56" y1="576.16" x2="574.56" y2="583.26" stroke="#0b5e0b" stroke-width="1.1" />
<line x1="571.56" y1="583.26" x2="577.56" y2="583.26" stroke="#0b5e0b" stroke-width="1.1" />
<line x1="598.42" y1="574.43" x2="598.42" y2="583.84" stroke="#0b5e0b" stroke-width="1.1" />
<line x1="595.42" y1="583.84" x2="601.42" y2="583.84" stroke="#0b5e0b" stroke-width="1.1" />
<line x1="622.28" y1="571.74" x2="622.28" y2="580.19" stroke="#0b5e0b" stroke-width="1.1" />
<line x1="619.28" y1="580.19" x2="625.28" y2="580.19" stroke="#0b5e0b" stroke-width="1.1" />
<line x1="646.14" y1="572.12" x2="646.14" y2="576.73" stroke="#0b5e0b" stroke-width="1.1" />
<line x1="643.14" y1="576.73" x2="649.14" y2="576.73" stroke="#0b5e0b" stroke-width="1.1" />
<polyline points="431.4,586.33 455.26,582.3 479.12,579.42 502.98,580.38 526.84,581.15 550.7,582.68 574.56,576.16 598.42,574.43 622.28,571.74 646.14,572.12" fill="none" stroke="#0b5e0b" stroke-width="1.5" stroke-linejoin="round"/>
<circle cx="431.4" cy="586.33" r="3.0" fill="#0b5e0b"/>
<circle cx="455.26" cy="582.3" r="3.0" fill="#0b5e0b"/>
<circle cx="479.12" cy="579.42" r="3.0" fill="#0b5e0b"/>
<circle cx="502.98" cy="580.38" r="3.0" fill="#0b5e0b"/>
<circle cx="526.84" cy="581.15" r="3.0" fill="#0b5e0b"/>
<circle cx="550.7" cy="582.68" r="3.0" fill="#0b5e0b"/>
<circle cx="574.56" cy="576.16" r="3.0" fill="#0b5e0b"/>
<circle cx="598.42" cy="574.43" r="3.0" fill="#0b5e0b"/>
<circle cx="622.28" cy="571.74" r="3.0" fill="#0b5e0b"/>
<circle cx="646.14" cy="572.12" r="3.0" fill="#0b5e0b"/>
<line x1="455.26" y1="588.64" x2="455.26" y2="593.24" stroke="#f23b3b" stroke-width="1.1" />
<line x1="452.26" y1="593.24" x2="458.26" y2="593.24" stroke="#f23b3b" stroke-width="1.1" />
<line x1="479.12" y1="589.6" x2="479.12" y2="594.2" stroke="#f23b3b" stroke-width="1.1" />
<line x1="476.12" y1="594.2" x2="482.12" y2="594.2" stroke="#f23b3b" stroke-width="1.1" />
<line x1="502.98" y1="587.48" x2="502.98" y2="597.66" stroke="#f23b3b" stroke-width="1.1" />
<line x1="499.98" y1="597.66" x2="505.98" y2="597.66" stroke="#f23b3b" stroke-width="1.1" />
<line x1="526.84" y1="589.79" x2="526.84" y2="594.2" stroke="#f23b3b" stroke-width="1.1" />
<line x1="523.84" y1="594.2" x2="529.84" y2="594.2" stroke="#f23b3b" stroke-width="1.1" />
<line x1="550.7" y1="598.43" x2="550.7" y2="600.92" stroke="#f23b3b" stroke-width="1.1" />
<line x1="547.7" y1="600.92" x2="553.7" y2="600.92" stroke="#f23b3b" stroke-width="1.1" />
<line x1="574.56" y1="598.24" x2="574.56" y2="600.54" stroke="#f23b3b" stroke-width="1.1" />
<line x1="571.56" y1="600.54" x2="577.56" y2="600.54" stroke="#f23b3b" stroke-width="1.1" />
<line x1="598.42" y1="600.16" x2="598.42" y2="604.38" stroke="#f23b3b" stroke-width="1.1" />
<line x1="595.42" y1="604.38" x2="601.42" y2="604.38" stroke="#f23b3b" stroke-width="1.1" />
<line x1="622.28" y1="597.08" x2="622.28" y2="600.54" stroke="#f23b3b" stroke-width="1.1" />
<line x1="619.28" y1="600.54" x2="625.28" y2="600.54" stroke="#f23b3b" stroke-width="1.1" />
<line x1="646.14" y1="598.62" x2="646.14" y2="600.54" stroke="#f23b3b" stroke-width="1.1" />
<line x1="643.14" y1="600.54" x2="649.14" y2="600.54" stroke="#f23b3b" stroke-width="1.1" />
<polyline points="431.4,590.94 455.26,588.64 479.12,589.6 502.98,587.48 526.84,589.79 550.7,598.43 574.56,598.24 598.42,600.16 622.28,597.08 646.14,598.62" fill="none" stroke="#f23b3b" stroke-width="1.5" stroke-linejoin="round"/>
<circle cx="431.4" cy="590.94" r="3.0" fill="#f23b3b"/>
<circle cx="455.26" cy="588.64" r="3.0" fill="#f23b3b"/>
<circle cx="479.12" cy="589.6" r="3.0" fill="#f23b3b"/>
<circle cx="502.98" cy="587.48" r="3.0" fill="#f23b3b"/>
<circle cx="526.84" cy="589.79" r="3.0" fill="#f23b3b"/>
<circle cx="550.7" cy="598.43" r="3.0" fill="#f23b3b"/>
<circle cx="574.56" cy="598.24" r="3.0" fill="#f23b3b"/>
<circle cx="598.42" cy="600.16" r="3.0" fill="#f23b3b"/>
<circle cx="622.28" cy="597.08" r="3.0" fill="#f23b3b"/>
<circle cx="646.14" cy="598.62" r="3.0" fill="#f23b3b"/>
<line x1="431.4" y1="589.02" x2="431.4" y2="584.22" stroke="#000000" stroke-width="1.1" />
<line x1="428.4" y1="584.22" x2="434.4" y2="584.22" stroke="#000000" stroke-width="1.1" />
<line x1="455.26" y1="582.11" x2="455.26" y2="573.85" stroke="#000000" stroke-width="1.1" />
<line x1="452.26" y1="573.85" x2="458.26" y2="573.85" stroke="#000000" stroke-width="1.1" />
<line x1="479.12" y1="567.9" x2="479.12" y2="557.34" stroke="#000000" stroke-width="1.1" />
<line x1="476.12" y1="557.34" x2="482.12" y2="557.34" stroke="#000000" stroke-width="1.1" />
<line x1="502.98" y1="560.99" x2="502.98" y2="551.39" stroke="#000000" stroke-width="1.1" />
<line x1="499.98" y1="551.39" x2="505.98" y2="551.39" stroke="#000000" stroke-width="1.1" />
<line x1="526.84" y1="552.92" x2="526.84" y2="541.21" stroke="#000000" stroke-width="1.1" />
<line x1="523.84" y1="541.21" x2="529.84" y2="541.21" stroke="#000000" stroke-width="1.1" />
<line x1="550.7" y1="551.77" x2="550.7" y2="539.68" stroke="#000000" stroke-width="1.1" />
<line x1="547.7" y1="539.68" x2="553.7" y2="539.68" stroke="#000000" stroke-width="1.1" />
<line x1="574.56" y1="545.44" x2="574.56" y2="536.22" stroke="#000000" stroke-width="1.1" />
<line x1="571.56" y1="536.22" x2="577.56" y2="536.22" stroke="#000000" stroke-width="1.1" />
<line x1="598.42" y1="541.4" x2="598.42" y2="532.38" stroke="#000000" stroke-width="1.1" />
<line x1="595.42" y1="532.38" x2="601.42" y2="532.38" stroke="#000000" stroke-width="1.1" />
<line x1="622.28" y1="540.25" x2="622.28" y2="530.08" stroke="#000000" stroke-width="1.1" />
<line x1="619.28" y1="530.08" x2="625.28" y2="530.08" stroke="#000000" stroke-width="1.1" />
<line x1="646.14" y1="537.95" x2="646.14" y2="526.24" stroke="#000000" stroke-width="1.1" />
<line x1="643.14" y1="526.24" x2="649.14" y2="526.24" stroke="#000000" stroke-width="1.1" />
<polyline points="431.4,589.02 455.26,582.11 479.12,567.9 502.98,560.99 526.84,552.92 550.7,551.77 574.56,545.44 598.42,541.4 622.28,540.25 646.14,537.95" fill="none" stroke="#000000" stroke-width="1.5" stroke-linejoin="round"/>
<circle cx="431.4" cy="589.02" r="3.0" fill="#000000"/>
<circle cx="455.26" cy="582.11" r="3.0" fill="#000000"/>
<circle cx="479.12" cy="567.9" r="3.0" fill="#000000"/>
<circle cx="502.98" cy="560.99" r="3.0" fill="#000000"/>
<circle cx="526.84" cy="552.92" r="3.0" fill="#000000"/>
<circle cx="550.7" cy="551.77" r="3.0" fill="#000000"/>
<circle cx="574.56" cy="545.44" r="3.0" fill="#000000"/>
<circle cx="598.42" cy="541.4" r="3.0" fill="#000000"/>
<circle cx="622.28" cy="540.25" r="3.0" fill="#000000"/>
<circle cx="646.14" cy="537.95" r="3.0" fill="#000000"/>
<polygon points="595.65,552.9 596.28,554.58 598.08,554.66 596.67,555.78 597.15,557.51 595.65,556.52 594.15,557.51 594.63,555.78 593.22,554.66 595.02,554.58" fill="#111"/>
<polygon points="600.95,552.9 601.58,554.58 603.38,554.66 601.97,555.78 602.45,557.51 600.95,556.52 599.45,557.51 599.93,555.78 598.52,554.66 600.32,554.58" fill="#111"/>
<polygon points="598.3,585.7 598.93,587.38 600.73,587.46 599.32,588.58 599.8,590.31 598.3,589.32 596.8,590.31 597.28,588.58 595.87,587.46 597.67,587.38" fill="#111"/>
<polygon points="622.1,553.2 622.73,554.88 624.53,554.96 623.12,556.08 623.6,557.81 622.1,556.82 620.6,557.81 621.08,556.08 619.67,554.96 621.47,554.88" fill="#111"/>
<polygon points="622.1,581.9 622.73,583.58 624.53,583.66 623.12,584.78 623.6,586.51 622.1,585.52 620.6,586.51 621.08,584.78 619.67,583.66 621.47,583.58" fill="#111"/>
<polygon points="646.1,555.4 646.73,557.08 648.53,557.16 647.12,558.28 647.6,560.01 646.1,559.02 644.6,560.01 645.08,558.28 643.67,557.16 645.47,557.08" fill="#111"/>
<polygon points="646.1,578.6 646.73,580.28 648.53,580.36 647.12,581.48 647.6,583.21 646.1,582.22 644.6,583.21 645.08,581.48 643.67,580.36 645.47,580.28" fill="#111"/>
<line x1="424.2" y1="495.9" x2="439.8" y2="495.9" stroke="#000000" stroke-width="1.5" />
<circle cx="431.8" cy="495.9" r="3.0" fill="#000000"/>
<text x="448.74" y="499.9" font-size="12" fill="#111111" >Normal</text>
<line x1="424.2" y1="511.1" x2="439.8" y2="511.1" stroke="#f23b3b" stroke-width="1.5" />
<circle cx="431.8" cy="511.1" r="3.0" fill="#f23b3b"/>
<text transform="translate(449.07,515.1) scale(1.045,1)" font-size="12" fill="#111111" >CIA vehicle</text>
<line x1="424.2" y1="525.2" x2="439.8" y2="525.2" stroke="#0b5e0b" stroke-width="1.5" />
<circle cx="431.8" cy="525.2" r="3.0" fill="#0b5e0b"/>
<text x="449.1" y="529.2" font-size="12" fill="#111111" >SF-L</text>
<line x1="424.2" y1="542.1" x2="439.8" y2="542.1" stroke="#5a5af5" stroke-width="1.5" />
<circle cx="431.8" cy="542.1" r="3.0" fill="#5a5af5"/>
<text x="449.1" y="546.1" font-size="12" fill="#111111" >SF-H</text>
<line x1="424.2" y1="558.8" x2="439.8" y2="558.8" stroke="#b457dc" stroke-width="1.5" />
<circle cx="431.8" cy="558.8" r="3.0" fill="#b457dc"/>
<text x="448.74" y="562.8" font-size="12" fill="#111111" >MTX</text>
<text transform="translate(19.74,509.5) scale(1.019,1)" font-size="13" fill="#111" >Normal</text>
<text transform="translate(75.14,509.5) scale(1.023,1)" font-size="13" fill="#111" >CIA vehicle</text>
<text transform="translate(160.23,509.5) scale(1.036,1)" font-size="13" fill="#111" >SF-L</text>
<text transform="translate(225.53,509.5) scale(1.035,1)" font-size="13" fill="#111" >SF-H</text>
<text transform="translate(293.54,509.5) scale(1.019,1)" font-size="13" fill="#111" >MTX</text>
<defs><filter id="bl" x="-10%" y="-10%" width="120%" height="120%"><feGaussianBlur stdDeviation="0.55"/></filter><filter id="bl2" x="-20%" y="-20%" width="140%" height="140%"><feGaussianBlur stdDeviation="1.6"/></filter><linearGradient id="pawg" x1="0" y1="0" x2="0" y2="1"><stop offset="0" stop-color="#ecc0aa"/><stop offset="0.3" stop-color="#e6a898"/><stop offset="0.7" stop-color="#e09c90"/><stop offset="1" stop-color="#dca294"/></linearGradient><linearGradient id="pawg2" x1="0" y1="0" x2="0" y2="1"><stop offset="0" stop-color="#e4a490"/><stop offset="0.4" stop-color="#dc8e80"/><stop offset="1" stop-color="#d8a494"/></linearGradient></defs>
<clipPath id="cp0"><rect x="0" y="0" width="56.2" height="116.0"/></clipPath>
<g transform="translate(11.7,515.3)"><g clip-path="url(#cp0)"><g filter="url(#bl)">
<rect x="-2" y="-2" width="62" height="122" fill="#f5f3ec"/><polygon points="30,60 58,95 58,118 20,118" fill="#ebe8dc"/><path d="M-2,29 C4.6,30 9.8,36.6 14,42 L18,55 L18,85 L15,95 C8,103 4,110 1,118 L-2,118 Z" fill="#3f3a2e"/><path d="M-2,29 C4.6,30 9.8,36.6 12.5,41.9 L10,43 C7,38 3,34 -2,33 Z" fill="#6e6a56"/>
<polygon points="21.76,41.51 15.13,10.87 14.33,9.07 13,8 12.12,9.46 11.98,11.43 16.24,42.49" fill="url(#pawg)" /><polygon points="14.56,11.3 14.05,8.79 13,8 12.28,9.1 12.67,11.63" fill="#f1e6da" opacity="0.85"/><polygon points="27.9,40.89 25.42,8.13 24.84,6.23 23.6,5 22.46,6.33 22.03,8.26 22.1,41.11" fill="url(#pawg)" /><polygon points="24.76,8.48 24.59,5.92 23.6,5 22.69,6 22.72,8.56" fill="#f1e6da" opacity="0.85"/><polygon points="34.26,42.47 38.05,12.82 37.89,10.85 37,9.4 35.68,10.48 34.89,12.29 28.74,41.53" fill="url(#pawg)" /><polygon points="37.36,13.03 37.72,10.5 37,9.4 35.96,10.2 35.47,12.71" fill="#f1e6da" opacity="0.85"/><polygon points="33.86,53.56 49.84,47.23 51.49,46.1 52.3,44.5 50.68,43.71 48.69,43.82 32.14,48.44" fill="url(#pawg)" /><polygon points="49.31,46.65 51.71,45.76 52.3,44.5 51.07,43.85 48.62,44.6" fill="#f1e6da" opacity="0.85"/><polygon points="17.77,43.53 13.97,40.04 12.38,38.87 10.7,38.6 10.65,40.3 11.51,42.09 14.23,46.47" fill="url(#pawg)" /><polygon points="13.68,40.7 12,38.77 10.7,38.6 10.62,39.91 12.21,41.92" fill="#f1e6da" opacity="0.85"/><path d="M12.5,39 C12.92,37.08 14.42,37.08 16,36.5 C17.58,35.92 19.83,35.67 22,35.5 C24.17,35.33 26.83,35.17 29,35.5 C31.17,35.83 33.7,35.92 35,37.5 C36.3,39.08 36.53,42.08 36.8,45 C37.07,47.92 36.7,52.88 36.6,55 C36.5,57.12 37,54.32 36.2,57.7 C35.4,61.08 32.97,69.43 31.8,75.3 C30.63,81.17 29.93,88.52 29.2,92.9 C28.47,97.28 28.18,99.17 27.4,101.6 C26.62,104.03 25.65,106.13 24.5,107.5 C23.35,108.87 21.83,109.97 20.5,109.8 C19.17,109.63 17.47,107.87 16.5,106.5 C15.53,105.13 15.32,103.87 14.7,101.6 C14.08,99.33 12.88,97.28 12.8,92.9 C12.72,88.52 13.82,81.17 14.2,75.3 C14.58,69.43 15.22,62.25 15.1,57.7 C14.98,53.15 13.93,51.12 13.5,48 C13.07,44.88 12.08,40.92 12.5,39 Z" fill="url(#pawg)" /><g filter="url(#bl2)"><path d="M21.5,58 C25,60 26,72 25,88 C24.5,96 23,100 21.8,97 C20.5,85 20,70 21.5,58 Z" fill="#cf6670" opacity="0.8"/></g><circle cx="21.3" cy="67.4" r="1.4" fill="#f5e0d4"/><circle cx="20.4" cy="74.4" r="1.1" fill="#f5e0d4"/>
</g></g>
<rect x="0" y="0" width="56.2" height="116.0" fill="none" stroke="#6e6e6e" stroke-width="0.9"/></g>
<clipPath id="cp1"><rect x="0" y="0" width="56.2" height="116.0"/></clipPath>
<g transform="translate(79.0,515.3)"><g clip-path="url(#cp1)"><g filter="url(#bl)">
<rect x="-2" y="-2" width="62" height="122" fill="#cfcdc4"/><polygon points="-2,-2 31,-2 26,8 20,22 8,28 -2,31" fill="#58564b"/><polygon points="31,-2 58,-2 58,34 50,26 40,12" fill="#ebe9e3"/><polygon points="47,50 58,40 58,118 40,118 46,95" fill="#bdbbb1"/><polygon points="42,100 58,95 58,118 36,118" fill="#e2e0da"/><polygon points="-2,31 7,30 6.5,45 7,57 9,70 10,84 10,95.5 14,108 19,118 -2,118" fill="#b4af94"/><polygon points="2,98 9,102 17,118 5,118" fill="#2b2720"/><polygon points="21,12 27,9 28,27 23,24" fill="#5c5a50"/><line x1="0" y1="40" x2="6" y2="80" stroke="#e0dcc8" stroke-width="0.8" opacity="0.6"/><line x1="2" y1="50" x2="8" y2="100" stroke="#e0dcc8" stroke-width="0.8" opacity="0.6"/><line x1="1" y1="70" x2="10" y2="112" stroke="#e0dcc8" stroke-width="0.8" opacity="0.6"/><line x1="3" y1="35" x2="5" y2="60" stroke="#e0dcc8" stroke-width="0.8" opacity="0.6"/><line x1="4" y1="60" x2="12" y2="115" stroke="#e0dcc8" stroke-width="0.8" opacity="0.6"/><line x1="1" y1="55" x2="6" y2="95" stroke="#7a7564" stroke-width="0.8" opacity="0.6"/><line x1="0" y1="75" x2="5" y2="110" stroke="#7a7564" stroke-width="0.8" opacity="0.6"/>
<polygon points="18.73,34.39 9.63,13.82 8,11.84 5.5,11 4.03,13.19 3.95,15.75 9.27,37.61" fill="url(#pawg2)" /><polygon points="8.62,14.59 7.48,11.6 5.5,11 4.3,12.68 5.21,15.75" fill="#f1e6da" opacity="0.85"/><polygon points="26.59,30.02 15.57,8.89 13.72,7.07 11,6.5 9.54,8.87 9.6,11.46 17.41,33.98" fill="url(#pawg2)" /><polygon points="14.53,9.77 13.15,6.88 11,6.5 9.8,8.32 10.95,11.31" fill="#f1e6da" opacity="0.85"/><polygon points="37.45,31.24 32.52,10.48 31.15,8.24 28.5,7 26.3,8.92 25.59,11.45 26.55,32.76" fill="url(#pawg2)" /><polygon points="31.19,11.07 30.61,7.92 28.5,7 26.73,8.46 27.03,11.65" fill="#f1e6da" opacity="0.85"/><polygon points="49.95,48.68 51,29.94 50.24,27.72 48,26 45.38,27.06 44.06,29 40.05,47.32" fill="url(#pawg2)" /><polygon points="49.56,30.1 49.8,27.31 48,26 45.92,26.78 45.4,29.53" fill="#f1e6da" opacity="0.85"/><path d="M4,36 C4.62,33.67 6.33,31.5 8,31 C9.67,30.5 12.17,33.33 14,33 C15.83,32.67 17.17,29.33 19,29 C20.83,28.67 23.17,31.33 25,31 C26.83,30.67 28.17,27.17 30,27 C31.83,26.83 34.17,28.67 36,30 C37.83,31.33 39.33,34.33 41,35 C42.67,35.67 44.5,33.5 46,34 C47.5,34.5 49.08,37 50,38 C50.92,39 51.22,38 51.5,40 C51.78,42 52.28,47.05 51.7,50 C51.12,52.95 48.87,54.37 48,57.7 C47.13,61.03 46.75,65.62 46.5,70 C46.25,74.38 46.92,79.83 46.5,84 C46.08,88.17 45.03,92.07 44,95 C42.97,97.93 41.97,99.1 40.3,101.6 C38.63,104.1 36.05,107.85 34,110 C31.95,112.15 30.67,113.75 28,114.5 C25.33,115.25 20.67,115.58 18,114.5 C15.33,113.42 13.42,110.15 12,108 C10.58,105.85 10.2,103.68 9.5,101.6 C8.8,99.52 8.08,98.43 7.8,95.5 C7.52,92.57 7.95,88.25 7.8,84 C7.65,79.75 7.37,74.5 6.9,70 C6.43,65.5 5.43,61.17 5,57 C4.57,52.83 4.47,48.5 4.3,45 C4.13,41.5 3.38,38.33 4,36 Z" fill="url(#pawg2)" /><g filter="url(#bl2)"><polygon points="8,58 20,55 23,75 21,100 16,110 10,101 8,84" fill="#e6c8b2" opacity="0.8"/><polygon points="28,58 38.5,60 38,80 35,95 30,98 27,85" fill="#c85a66" opacity="0.9"/><circle cx="23" cy="40" r="3.2" fill="#eab4a2"/><circle cx="31" cy="36" r="2.6" fill="#eab4a2"/><circle cx="38" cy="45" r="3" fill="#e6ad9c"/><circle cx="17" cy="48" r="2.6" fill="#e6ad9c"/></g>
</g></g>
<rect x="0" y="0" width="56.2" height="116.0" fill="none" stroke="#6e6e6e" stroke-width="0.9"/></g>
<clipPath id="cp2"><rect x="0" y="0" width="56.2" height="116.0"/></clipPath>
<g transform="translate(145.9,515.3)"><g clip-path="url(#cp2)"><g filter="url(#bl)">
<rect x="-2" y="-2" width="62" height="122" fill="#9c967e"/><polygon points="12,-2 40,-2 36,28 14,28" fill="#8d8b75"/><polygon points="38,-2 58,-2 58,86.7 50,88 40,92 33,80 36,50" fill="#2c2a22"/><polygon points="58,86.7 58,118 27,118 34.3,103.4 39.5,94.6" fill="#efece0"/><polygon points="-2,80 10,90 16,118 -2,118" fill="#8a8468"/><line x1="2" y1="10" x2="8" y2="60" stroke="#c4bea6" stroke-width="0.8" opacity="0.5"/><line x1="4" y1="0" x2="6" y2="30" stroke="#c4bea6" stroke-width="0.8" opacity="0.5"/><line x1="1" y1="40" x2="9" y2="100" stroke="#c4bea6" stroke-width="0.8" opacity="0.5"/><line x1="3" y1="60" x2="12" y2="115" stroke="#c4bea6" stroke-width="0.8" opacity="0.5"/><line x1="14" y1="0" x2="14" y2="25" stroke="#c4bea6" stroke-width="0.8" opacity="0.5"/><line x1="34" y1="0" x2="30" y2="25" stroke="#c4bea6" stroke-width="0.8" opacity="0.5"/><line x1="0" y1="20" x2="5" y2="70" stroke="#6e6a56" stroke-width="0.8" opacity="0.6"/><line x1="6" y1="70" x2="14" y2="118" stroke="#6e6a56" stroke-width="0.8" opacity="0.6"/>
<polygon points="21.84,35.87 11.41,6.52 10.21,4.87 8.3,4.1 7.12,5.78 7,7.82 14.16,38.13" fill="url(#pawg)" /><polygon points="10.62,7.09 9.81,4.66 8.3,4.1 7.34,5.39 7.97,7.87" fill="#f1e6da" opacity="0.85"/><polygon points="28.75,35.9 26.49,6.83 25.75,4.93 24.1,3.7 22.53,5.02 21.89,6.96 21.25,36.1" fill="url(#pawg)" /><polygon points="25.58,7.18 25.41,4.62 24.1,3.7 22.84,4.7 22.82,7.26" fill="#f1e6da" opacity="0.85"/><polygon points="36.93,38.61 46.62,9.73 46.71,7.69 45.7,5.9 43.73,6.48 42.36,7.99 29.07,35.39" fill="url(#pawg)" /><polygon points="45.65,9.68 46.53,7.28 45.7,5.9 44.14,6.3 43.09,8.64" fill="#f1e6da" opacity="0.85"/><polygon points="38.91,51.43 53.34,36.87 54.27,35 54,32.7 51.78,32.06 49.78,32.68 33.09,44.57" fill="url(#pawg)" /><polygon points="52.39,36.24 54.27,34.5 54,32.7 52.27,32.15 50.25,33.72" fill="#f1e6da" opacity="0.85"/><polygon points="13.58,39.63 8.22,35.64 6.43,34.68 4.4,34.8 4.1,36.81 4.9,38.68 8.42,44.37" fill="url(#pawg)" /><polygon points="7.77,36.48 5.98,34.66 4.4,34.8 4.12,36.36 5.78,38.31" fill="#f1e6da" opacity="0.85"/><path d="M4,34 C4.67,31.5 7,30.5 9,30 C11,29.5 13.5,31.17 16,31 C18.5,30.83 21.33,29.17 24,29 C26.67,28.83 29.83,29.67 32,30 C34.17,30.33 35.58,29.83 37,31 C38.42,32.17 40,34.5 40.5,37 C41,39.5 40.32,42.55 40,46 C39.68,49.45 39.42,51.37 38.6,57.7 C37.78,64.03 36.42,76.68 35.1,84 C33.78,91.32 32.02,97.05 30.7,101.6 C29.38,106.15 29.1,109.68 27.2,111.3 C25.3,112.92 21.05,112.92 19.3,111.3 C17.55,109.68 17.87,106.15 16.7,101.6 C15.53,97.05 13.33,91.32 12.3,84 C11.27,76.68 11.72,64.2 10.5,57.7 C9.28,51.2 6.08,48.95 5,45 C3.92,41.05 3.33,36.5 4,34 Z" fill="url(#pawg)" /><g filter="url(#bl2)"><ellipse cx="23.5" cy="47" rx="7" ry="5" fill="#c86a6c" opacity="0.7"/><polygon points="18.4,48 29.9,48 29.5,70 27,95 23,100 20,90 18.4,70" fill="#c85a64" opacity="0.85"/><polygon points="11,60 15,60 17,90 14,90" fill="#eed2c0" opacity="0.6"/></g>
</g></g>
<rect x="0" y="0" width="56.2" height="116.0" fill="none" stroke="#6e6e6e" stroke-width="0.9"/></g>
<clipPath id="cp3"><rect x="0" y="0" width="56.2" height="116.0"/></clipPath>
<g transform="translate(212.7,515.3)"><g clip-path="url(#cp3)"><g filter="url(#bl)">
<rect x="-2" y="-2" width="62" height="122" fill="#f2efe6"/><polygon points="-2,-2 23,-2 25,10 25,40 24,60 24,100 22,118 -2,118" fill="#221e18"/><polygon points="22,-2 37,-2 34,20 30,32 26,30 23,10" fill="#6a6b52"/><polygon points="-2,95 14,92 20,100 20,118 -2,118" fill="#4a4a3c"/><polygon points="6,118 14,102 16,104 11,118" fill="#8a8a70"/>
<polygon points="24.06,42.51 7.97,13.21 6.66,11.72 5,11.1 4.46,12.79 4.83,14.74 17.94,45.49" fill="url(#pawg)" /><polygon points="7.48,13.81 6.3,11.53 5,11.1 4.54,12.39 5.6,14.72" fill="#f1e6da" opacity="0.85"/><polygon points="30.19,43.76 25.89,6.26 25.22,4.38 23.9,3.2 22.78,4.57 22.4,6.52 23.81,44.24" fill="url(#pawg)" /><polygon points="25.21,6.63 24.95,4.08 23.9,3.2 23,4.23 23.12,6.79" fill="#f1e6da" opacity="0.85"/><polygon points="35.49,44.87 42.67,9.49 42.55,7.48 41.5,5.9 39.83,6.8 38.79,8.52 28.51,43.13" fill="url(#pawg)" /><polygon points="41.81,9.61 42.35,7.1 41.5,5.9 40.18,6.56 39.48,9.03" fill="#f1e6da" opacity="0.85"/><polygon points="33.98,57.26 50.41,50.84 52.08,49.71 52.9,48 51.27,47.03 49.26,47.01 32.02,50.74" fill="url(#pawg)" /><polygon points="49.88,50.17 52.3,49.35 52.9,48 51.66,47.2 49.18,47.87" fill="#f1e6da" opacity="0.85"/><polygon points="20.43,53.13 5.42,52.04 3.45,52.28 2,53.3 3.08,54.7 4.91,55.51 19.57,58.87" fill="url(#pawg)" /><polygon points="5.64,52.78 3.09,52.47 2,53.3 2.8,54.41 5.33,54.86" fill="#f1e6da" opacity="0.85"/><path d="M15,41 C16,39.17 18,37.83 20,37 C22,36.17 24.83,36.17 27,36 C29.17,35.83 31.33,35.5 33,36 C34.67,36.5 36.17,37.33 37,39 C37.83,40.67 37.83,42.88 38,46 C38.17,49.12 38.45,52.82 38,57.7 C37.55,62.58 36.18,69.43 35.3,75.3 C34.42,81.17 33.58,87.63 32.7,92.9 C31.82,98.17 30.73,103.38 30,106.9 C29.27,110.42 29.62,112.82 28.3,114 C26.98,115.18 23.42,115.18 22.1,114 C20.78,112.82 21.27,110.42 20.4,106.9 C19.53,103.38 17.63,98.17 16.9,92.9 C16.17,87.63 16.73,81.17 16,75.3 C15.27,69.43 12.83,62.25 12.5,57.7 C12.17,53.15 13.58,50.78 14,48 C14.42,45.22 14,42.83 15,41 Z" fill="url(#pawg)" /><g filter="url(#bl2)"><polygon points="20,66 28,66 29,85 27,100 23,104 20,92" fill="#b44c5c" opacity="0.85"/></g><circle cx="20.8" cy="78.8" r="1.8" fill="#f7e6da"/>
</g></g>
<rect x="0" y="0" width="56.2" height="116.0" fill="none" stroke="#6e6e6e" stroke-width="0.9"/></g>
<clipPath id="cp4"><rect x="0" y="0" width="56.2" height="116.0"/></clipPath>
<g transform="translate(280.2,515.3)"><g clip-path="url(#cp4)"><g filter="url(#bl)">
<rect x="-2" y="-2" width="62" height="122" fill="#f4f1e6"/><polygon points="-2,-2 32,-2 34,17 33,29 25,40 22,60 22,90 22,118 -2,118" fill="#6c6854"/><polygon points="-2,85 18,85 20,100 20,118 -2,118" fill="#8a8468"/><polygon points="-2,-2 4,-2 4,90 -2,90" fill="#3a3628"/><line x1="6" y1="0" x2="10" y2="30" stroke="#8e8a74" stroke-width="0.8" opacity="0.6"/><line x1="12" y1="0" x2="16" y2="28" stroke="#8e8a74" stroke-width="0.8" opacity="0.6"/><line x1="2" y1="30" x2="6" y2="80" stroke="#8e8a74" stroke-width="0.8" opacity="0.6"/><line x1="8" y1="60" x2="12" y2="110" stroke="#8e8a74" stroke-width="0.8" opacity="0.6"/><line x1="24" y1="0" x2="28" y2="25" stroke="#8e8a74" stroke-width="0.8" opacity="0.6"/><line x1="3" y1="0" x2="4" y2="60" stroke="#3e3a2e" stroke-width="0.8" opacity="0.6"/><line x1="18" y1="0" x2="22" y2="26" stroke="#3e3a2e" stroke-width="0.8" opacity="0.6"/>
<polygon points="21.76,40.12 6.24,13.46 4.78,12.04 2.8,11.6 1.96,13.45 2.22,15.47 14.24,43.88" fill="url(#pawg)" /><polygon points="5.58,14.14 4.36,11.9 2.8,11.6 2.1,13.02 3.17,15.35" fill="#f1e6da" opacity="0.85"/><polygon points="28.94,39.32 21.76,7.77 20.77,6 19,5 17.66,6.53 17.32,8.53 21.06,40.68" fill="url(#pawg)" /><polygon points="20.93,8.24 20.4,5.73 19,5 17.92,6.16 18.26,8.7" fill="#f1e6da" opacity="0.85"/><polygon points="38.12,42.84 41.67,15.58 41.39,13.57 40.1,12 38.3,12.94 37.26,14.69 29.88,41.16" fill="url(#pawg)" /><polygon points="40.72,15.72 41.14,13.19 40.1,12 38.67,12.69 38.08,15.18" fill="#f1e6da" opacity="0.85"/><polygon points="38.88,57.06 49.18,45.01 50.07,43.15 49.8,41 47.67,40.6 45.76,41.37 33.12,50.94" fill="url(#pawg)" /><polygon points="48.27,44.51 50.06,42.68 49.8,41 48.14,40.64 46.21,42.32" fill="#f1e6da" opacity="0.85"/><polygon points="19.92,51.42 10.91,43.71 9.13,42.72 7.1,42.8 6.77,44.8 7.53,46.69 14.08,56.58" fill="url(#pawg)" /><polygon points="10.44,44.54 8.68,42.68 7.1,42.8 6.79,44.35 8.42,46.33" fill="#f1e6da" opacity="0.85"/><path d="M10,43 C10.83,40.67 13,37.67 15,36 C17,34.33 19.5,33.5 22,33 C24.5,32.5 27.5,32.67 30,33 C32.5,33.33 35.17,33.5 37,35 C38.83,36.5 40.33,39.5 41,42 C41.67,44.5 41.15,47.38 41,50 C40.85,52.62 40.83,53.48 40.1,57.7 C39.37,61.92 37.62,69.43 36.6,75.3 C35.58,81.17 35.32,87.92 34,92.9 C32.68,97.88 30.7,101.68 28.7,105.2 C26.7,108.72 23.78,112.87 22,114 C20.22,115.13 19.08,113.47 18,112 C16.92,110.53 16.35,108.38 15.5,105.2 C14.65,102.02 13.33,97.88 12.9,92.9 C12.47,87.92 13.5,81.17 12.9,75.3 C12.3,69.43 9.78,61.92 9.3,57.7 C8.82,53.48 9.88,52.45 10,50 C10.12,47.55 9.17,45.33 10,43 Z" fill="url(#pawg)" /><g filter="url(#bl2)"><polygon points="18,60 26,58 28,80 26,100 22,104 19,90" fill="#cc6c74" opacity="0.7"/></g>
</g></g>
<rect x="0" y="0" width="56.2" height="116.0" fill="none" stroke="#6e6e6e" stroke-width="0.9"/></g>
</svg></body></html>
